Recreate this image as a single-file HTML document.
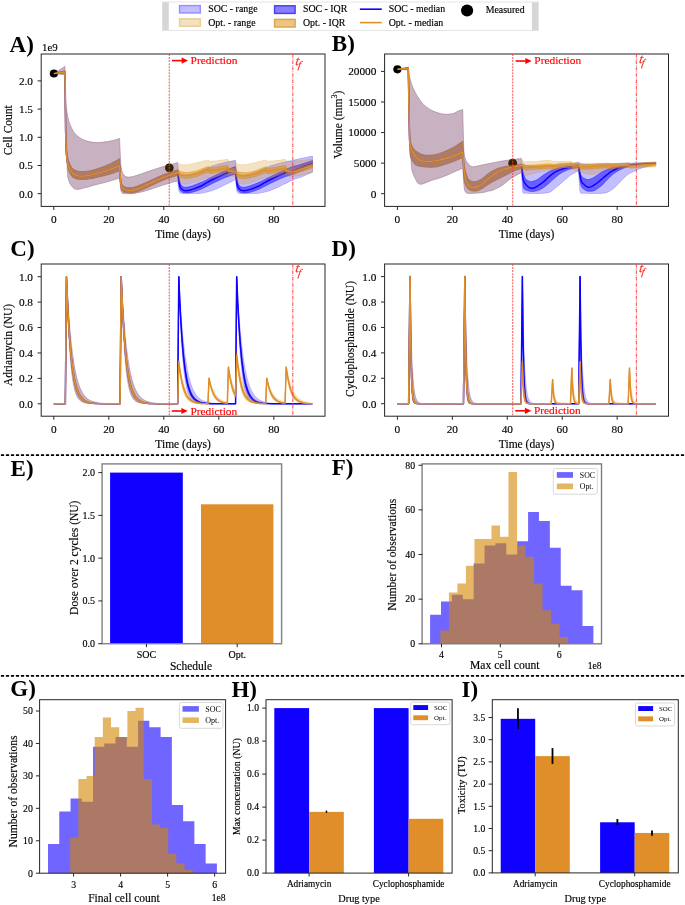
<!DOCTYPE html><html><head><meta charset="utf-8"><style>html,body{margin:0;padding:0;background:#fff;}svg{display:block;will-change:transform;}</style></head><body>
<svg width="685" height="905" viewBox="0 0 685 905" font-family='"Liberation Serif", serif'>
<rect x="0" y="0" width="685" height="905" fill="#fff"/>
<rect x="162.5" y="2" width="376" height="28.5" fill="#fff" stroke="#e6e6e6" stroke-width="1"/>
<rect x="162.5" y="2.2" width="6.3" height="28" fill="#d6d6d6"/>
<rect x="531.9" y="2.2" width="6.3" height="28" fill="#d6d6d6"/>
<rect x="179.6" y="5.6" width="20.7" height="7.3" fill="rgb(195,191,255)" stroke="rgb(150,143,255)" stroke-width="1.5"/>
<rect x="179.6" y="18.9" width="20.7" height="7.3" fill="rgb(241,226,194)" stroke="rgb(237,205,148)" stroke-width="1.5"/>
<text x="208.2" y="12.4" font-size="9.9" text-anchor="start" fill="#000" stroke="#000" stroke-width="0.15">SOC - range</text>
<text x="208.2" y="25.8" font-size="9.9" text-anchor="start" fill="#000" stroke="#000" stroke-width="0.15">Opt. - range</text>
<rect x="274.6" y="5.8" width="20.5" height="7.6" fill="rgb(135,127,255)" stroke="rgb(76,64,255)" stroke-width="1.5"/>
<rect x="274.6" y="19.4" width="20.5" height="7.6" fill="rgb(235,197,132)" stroke="rgb(225,166,71)" stroke-width="1.5"/>
<text x="302.9" y="12.4" font-size="9.9" text-anchor="start" fill="#000" stroke="#000" stroke-width="0.15">SOC - IQR</text>
<text x="302.9" y="25.8" font-size="9.9" text-anchor="start" fill="#000" stroke="#000" stroke-width="0.15">Opt. - IQR</text>
<line x1="359.9" y1="9.2" x2="381.8" y2="9.2" stroke="rgb(16,0,255)" stroke-width="1.6"/>
<line x1="359.9" y1="22.6" x2="381.8" y2="22.6" stroke="rgb(224,142,42)" stroke-width="1.6"/>
<text x="388.7" y="12.4" font-size="9.9" text-anchor="start" fill="#000" stroke="#000" stroke-width="0.15">SOC - median</text>
<text x="388.7" y="25.8" font-size="9.9" text-anchor="start" fill="#000" stroke="#000" stroke-width="0.15">Opt. - median</text>
<circle cx="467.1" cy="10.5" r="6.1" fill="#000"/>
<text x="485.7" y="13.3" font-size="9.9" text-anchor="start" fill="#000" stroke="#000" stroke-width="0.15">Measured</text>
<text x="9.6" y="51.5" font-size="23" text-anchor="start" fill="#000" font-weight="bold">A)</text>
<text x="331.8" y="50.9" font-size="23" text-anchor="start" fill="#000" font-weight="bold">B)</text>
<text x="10.3" y="255.8" font-size="23" text-anchor="start" fill="#000" font-weight="bold">C)</text>
<text x="331.6" y="255.6" font-size="23" text-anchor="start" fill="#000" font-weight="bold">D)</text>
<text x="10.6" y="476.2" font-size="23" text-anchor="start" fill="#000" font-weight="bold">E)</text>
<text x="331.8" y="475.3" font-size="23" text-anchor="start" fill="#000" font-weight="bold">F)</text>
<text x="10.3" y="695.6" font-size="23" text-anchor="start" fill="#000" font-weight="bold">G)</text>
<text x="231.4" y="696.8" font-size="23" text-anchor="start" fill="#000" font-weight="bold">H)</text>
<text x="461.5" y="696.8" font-size="23" text-anchor="start" fill="#000" font-weight="bold">I)</text>
<line x1="0" y1="455.1" x2="685" y2="455.1" stroke="#000" stroke-width="1.8" stroke-dasharray="3.2 1.8" stroke-dashoffset="-0.9"/>
<line x1="0" y1="675.8" x2="685" y2="675.8" stroke="#000" stroke-width="1.8" stroke-dasharray="3.2 1.8" stroke-dashoffset="-0.9"/>
<rect x="41.2" y="54" width="283.8" height="152.4" fill="none" stroke="#262626" stroke-width="1"/>
<line x1="37.6" y1="193.7" x2="41.2" y2="193.7" stroke="#262626" stroke-width="1"/>
<text x="33" y="197.6" font-size="11.3" text-anchor="end" fill="#000" stroke="#000" stroke-width="0.15">0.0</text>
<line x1="37.6" y1="165.5" x2="41.2" y2="165.5" stroke="#262626" stroke-width="1"/>
<text x="33" y="169.4" font-size="11.3" text-anchor="end" fill="#000" stroke="#000" stroke-width="0.15">0.5</text>
<line x1="37.6" y1="137.3" x2="41.2" y2="137.3" stroke="#262626" stroke-width="1"/>
<text x="33" y="141.2" font-size="11.3" text-anchor="end" fill="#000" stroke="#000" stroke-width="0.15">1.0</text>
<line x1="37.6" y1="109.1" x2="41.2" y2="109.1" stroke="#262626" stroke-width="1"/>
<text x="33" y="113" font-size="11.3" text-anchor="end" fill="#000" stroke="#000" stroke-width="0.15">1.5</text>
<line x1="37.6" y1="80.9" x2="41.2" y2="80.9" stroke="#262626" stroke-width="1"/>
<text x="33" y="84.8" font-size="11.3" text-anchor="end" fill="#000" stroke="#000" stroke-width="0.15">2.0</text>
<line x1="53.8" y1="206.4" x2="53.8" y2="210" stroke="#262626" stroke-width="1"/>
<text x="53.8" y="222.8" font-size="11.3" text-anchor="middle" fill="#000" stroke="#000" stroke-width="0.15">0</text>
<line x1="108.8" y1="206.4" x2="108.8" y2="210" stroke="#262626" stroke-width="1"/>
<text x="108.8" y="222.8" font-size="11.3" text-anchor="middle" fill="#000" stroke="#000" stroke-width="0.15">20</text>
<line x1="163.8" y1="206.4" x2="163.8" y2="210" stroke="#262626" stroke-width="1"/>
<text x="163.8" y="222.8" font-size="11.3" text-anchor="middle" fill="#000" stroke="#000" stroke-width="0.15">40</text>
<line x1="218.8" y1="206.4" x2="218.8" y2="210" stroke="#262626" stroke-width="1"/>
<text x="218.8" y="222.8" font-size="11.3" text-anchor="middle" fill="#000" stroke="#000" stroke-width="0.15">60</text>
<line x1="273.8" y1="206.4" x2="273.8" y2="210" stroke="#262626" stroke-width="1"/>
<text x="273.8" y="222.8" font-size="11.3" text-anchor="middle" fill="#000" stroke="#000" stroke-width="0.15">80</text>
<text x="42" y="51.2" font-size="10.9" text-anchor="start" fill="#000" stroke="#000" stroke-width="0.15">1e9</text>
<text x="183.1" y="238.2" font-size="11.5" text-anchor="middle" fill="#000" stroke="#000" stroke-width="0.15">Time (days)</text>
<text x="12.4" y="130.3" font-size="11.5" text-anchor="middle" fill="#000" stroke="#000" stroke-width="0.15" transform="rotate(-90 12.4 130.3)">Cell Count</text>
<rect x="384.6" y="54" width="283.9" height="152.4" fill="none" stroke="#262626" stroke-width="1"/>
<line x1="381" y1="193.7" x2="384.6" y2="193.7" stroke="#262626" stroke-width="1"/>
<text x="376.4" y="197.6" font-size="11.3" text-anchor="end" fill="#000" stroke="#000" stroke-width="0.15">0</text>
<line x1="381" y1="163.12" x2="384.6" y2="163.12" stroke="#262626" stroke-width="1"/>
<text x="376.4" y="167.03" font-size="11.3" text-anchor="end" fill="#000" stroke="#000" stroke-width="0.15">5000</text>
<line x1="381" y1="132.55" x2="384.6" y2="132.55" stroke="#262626" stroke-width="1"/>
<text x="376.4" y="136.45" font-size="11.3" text-anchor="end" fill="#000" stroke="#000" stroke-width="0.15">10000</text>
<line x1="381" y1="101.97" x2="384.6" y2="101.97" stroke="#262626" stroke-width="1"/>
<text x="376.4" y="105.88" font-size="11.3" text-anchor="end" fill="#000" stroke="#000" stroke-width="0.15">15000</text>
<line x1="381" y1="71.4" x2="384.6" y2="71.4" stroke="#262626" stroke-width="1"/>
<text x="376.4" y="75.3" font-size="11.3" text-anchor="end" fill="#000" stroke="#000" stroke-width="0.15">20000</text>
<line x1="397.4" y1="206.4" x2="397.4" y2="210" stroke="#262626" stroke-width="1"/>
<text x="397.4" y="222.8" font-size="11.3" text-anchor="middle" fill="#000" stroke="#000" stroke-width="0.15">0</text>
<line x1="452.34" y1="206.4" x2="452.34" y2="210" stroke="#262626" stroke-width="1"/>
<text x="452.34" y="222.8" font-size="11.3" text-anchor="middle" fill="#000" stroke="#000" stroke-width="0.15">20</text>
<line x1="507.28" y1="206.4" x2="507.28" y2="210" stroke="#262626" stroke-width="1"/>
<text x="507.28" y="222.8" font-size="11.3" text-anchor="middle" fill="#000" stroke="#000" stroke-width="0.15">40</text>
<line x1="562.22" y1="206.4" x2="562.22" y2="210" stroke="#262626" stroke-width="1"/>
<text x="562.22" y="222.8" font-size="11.3" text-anchor="middle" fill="#000" stroke="#000" stroke-width="0.15">60</text>
<line x1="617.16" y1="206.4" x2="617.16" y2="210" stroke="#262626" stroke-width="1"/>
<text x="617.16" y="222.8" font-size="11.3" text-anchor="middle" fill="#000" stroke="#000" stroke-width="0.15">80</text>
<text x="526.6" y="238.2" font-size="11.5" text-anchor="middle" fill="#000" stroke="#000" stroke-width="0.15">Time (days)</text>
<text x="341.9" y="124.7" stroke="#000" stroke-width="0.15" font-size="11.5" text-anchor="middle" transform="rotate(-90 341.9 124.7)">Volume (mm<tspan font-size="8" dy="-4.5">3</tspan><tspan dy="4.5">)</tspan></text>
<rect x="41.2" y="264" width="283.8" height="152.2" fill="none" stroke="#262626" stroke-width="1"/>
<line x1="37.6" y1="403.8" x2="41.2" y2="403.8" stroke="#262626" stroke-width="1"/>
<text x="33" y="407.7" font-size="11.3" text-anchor="end" fill="#000" stroke="#000" stroke-width="0.15">0.0</text>
<line x1="37.6" y1="378.38" x2="41.2" y2="378.38" stroke="#262626" stroke-width="1"/>
<text x="33" y="382.28" font-size="11.3" text-anchor="end" fill="#000" stroke="#000" stroke-width="0.15">0.2</text>
<line x1="37.6" y1="352.96" x2="41.2" y2="352.96" stroke="#262626" stroke-width="1"/>
<text x="33" y="356.86" font-size="11.3" text-anchor="end" fill="#000" stroke="#000" stroke-width="0.15">0.4</text>
<line x1="37.6" y1="327.54" x2="41.2" y2="327.54" stroke="#262626" stroke-width="1"/>
<text x="33" y="331.44" font-size="11.3" text-anchor="end" fill="#000" stroke="#000" stroke-width="0.15">0.6</text>
<line x1="37.6" y1="302.12" x2="41.2" y2="302.12" stroke="#262626" stroke-width="1"/>
<text x="33" y="306.02" font-size="11.3" text-anchor="end" fill="#000" stroke="#000" stroke-width="0.15">0.8</text>
<line x1="37.6" y1="276.7" x2="41.2" y2="276.7" stroke="#262626" stroke-width="1"/>
<text x="33" y="280.6" font-size="11.3" text-anchor="end" fill="#000" stroke="#000" stroke-width="0.15">1.0</text>
<line x1="53.8" y1="416.2" x2="53.8" y2="419.8" stroke="#262626" stroke-width="1"/>
<text x="53.8" y="432.6" font-size="11.3" text-anchor="middle" fill="#000" stroke="#000" stroke-width="0.15">0</text>
<line x1="108.8" y1="416.2" x2="108.8" y2="419.8" stroke="#262626" stroke-width="1"/>
<text x="108.8" y="432.6" font-size="11.3" text-anchor="middle" fill="#000" stroke="#000" stroke-width="0.15">20</text>
<line x1="163.8" y1="416.2" x2="163.8" y2="419.8" stroke="#262626" stroke-width="1"/>
<text x="163.8" y="432.6" font-size="11.3" text-anchor="middle" fill="#000" stroke="#000" stroke-width="0.15">40</text>
<line x1="218.8" y1="416.2" x2="218.8" y2="419.8" stroke="#262626" stroke-width="1"/>
<text x="218.8" y="432.6" font-size="11.3" text-anchor="middle" fill="#000" stroke="#000" stroke-width="0.15">60</text>
<line x1="273.8" y1="416.2" x2="273.8" y2="419.8" stroke="#262626" stroke-width="1"/>
<text x="273.8" y="432.6" font-size="11.3" text-anchor="middle" fill="#000" stroke="#000" stroke-width="0.15">80</text>
<text x="183.1" y="448" font-size="11.5" text-anchor="middle" fill="#000" stroke="#000" stroke-width="0.15">Time (days)</text>
<text x="11.9" y="345" font-size="11.5" text-anchor="middle" fill="#000" stroke="#000" stroke-width="0.15" transform="rotate(-90 11.9 345)">Adriamycin (NU)</text>
<rect x="384.6" y="264" width="283.9" height="152.2" fill="none" stroke="#262626" stroke-width="1"/>
<line x1="381" y1="403.7" x2="384.6" y2="403.7" stroke="#262626" stroke-width="1"/>
<text x="376.4" y="407.6" font-size="11.3" text-anchor="end" fill="#000" stroke="#000" stroke-width="0.15">0.0</text>
<line x1="381" y1="378.28" x2="384.6" y2="378.28" stroke="#262626" stroke-width="1"/>
<text x="376.4" y="382.18" font-size="11.3" text-anchor="end" fill="#000" stroke="#000" stroke-width="0.15">0.2</text>
<line x1="381" y1="352.86" x2="384.6" y2="352.86" stroke="#262626" stroke-width="1"/>
<text x="376.4" y="356.76" font-size="11.3" text-anchor="end" fill="#000" stroke="#000" stroke-width="0.15">0.4</text>
<line x1="381" y1="327.44" x2="384.6" y2="327.44" stroke="#262626" stroke-width="1"/>
<text x="376.4" y="331.34" font-size="11.3" text-anchor="end" fill="#000" stroke="#000" stroke-width="0.15">0.6</text>
<line x1="381" y1="302.02" x2="384.6" y2="302.02" stroke="#262626" stroke-width="1"/>
<text x="376.4" y="305.92" font-size="11.3" text-anchor="end" fill="#000" stroke="#000" stroke-width="0.15">0.8</text>
<line x1="381" y1="276.6" x2="384.6" y2="276.6" stroke="#262626" stroke-width="1"/>
<text x="376.4" y="280.5" font-size="11.3" text-anchor="end" fill="#000" stroke="#000" stroke-width="0.15">1.0</text>
<line x1="397.4" y1="416.2" x2="397.4" y2="419.8" stroke="#262626" stroke-width="1"/>
<text x="397.4" y="432.6" font-size="11.3" text-anchor="middle" fill="#000" stroke="#000" stroke-width="0.15">0</text>
<line x1="452.34" y1="416.2" x2="452.34" y2="419.8" stroke="#262626" stroke-width="1"/>
<text x="452.34" y="432.6" font-size="11.3" text-anchor="middle" fill="#000" stroke="#000" stroke-width="0.15">20</text>
<line x1="507.28" y1="416.2" x2="507.28" y2="419.8" stroke="#262626" stroke-width="1"/>
<text x="507.28" y="432.6" font-size="11.3" text-anchor="middle" fill="#000" stroke="#000" stroke-width="0.15">40</text>
<line x1="562.22" y1="416.2" x2="562.22" y2="419.8" stroke="#262626" stroke-width="1"/>
<text x="562.22" y="432.6" font-size="11.3" text-anchor="middle" fill="#000" stroke="#000" stroke-width="0.15">60</text>
<line x1="617.16" y1="416.2" x2="617.16" y2="419.8" stroke="#262626" stroke-width="1"/>
<text x="617.16" y="432.6" font-size="11.3" text-anchor="middle" fill="#000" stroke="#000" stroke-width="0.15">80</text>
<text x="526.6" y="448" font-size="11.5" text-anchor="middle" fill="#000" stroke="#000" stroke-width="0.15">Time (days)</text>
<text x="354.2" y="339" font-size="11.5" text-anchor="middle" fill="#000" stroke="#000" stroke-width="0.15" transform="rotate(-90 354.2 339)">Cyclophosphamide (NU)</text>
<defs><clipPath id="clA"><rect x="41.2" y="54" width="283.8" height="152.4"/></clipPath><clipPath id="clB"><rect x="384.6" y="54" width="283.9" height="152.4"/></clipPath><clipPath id="clC"><rect x="41.2" y="264" width="283.8" height="152.2"/></clipPath><clipPath id="clD"><rect x="384.6" y="264" width="283.9" height="152.2"/></clipPath></defs>
<g clip-path="url(#clA)">
<path d="M53.8 73.6 C54.73 73 57.53 71.18 59.4 70 C61.27 68.82 64.07 67.08 65 66.5 L65.4 98.6 C65.55 100.17 65.87 104.85 66.3 108 C66.73 111.15 67.4 114.83 68 117.5 C68.6 120.17 69.08 121.83 69.9 124 C70.72 126.17 71.73 128.58 72.9 130.5 C74.07 132.42 75.23 134 76.9 135.5 C78.57 137 80.75 138.45 82.9 139.5 C85.05 140.55 87.32 141.28 89.8 141.8 C92.28 142.32 95.15 142.6 97.8 142.6 C100.45 142.6 103.05 142.18 105.7 141.8 C108.35 141.42 111.38 140.85 113.7 140.3 C116.02 139.75 118.62 138.8 119.6 138.5 L120.6 162 C120.77 163.3 121.12 167.7 121.6 169.8 C122.08 171.9 122.55 173.4 123.5 174.6 C124.45 175.8 125.55 176.73 127.3 177 C129.05 177.27 131.17 176.9 134 176.2 C136.83 175.5 141.13 173.87 144.3 172.8 C147.47 171.73 149.98 170.8 153 169.8 C156.02 168.8 159.48 167.67 162.4 166.8 C165.32 165.93 167.97 165.33 170.5 164.6 C173.03 163.87 176.42 162.77 177.6 162.4 L178.6 171 C178.83 171.5 179.43 173.33 180 174 C180.57 174.67 181.12 174.8 182 175 C182.88 175.2 183.97 175.27 185.3 175.2 C186.63 175.13 188.38 174.9 190 174.6 C191.62 174.3 193.33 173.9 195 173.4 C196.67 172.9 198.42 172.23 200 171.6 C201.58 170.97 203.05 170.27 204.5 169.6 C205.95 168.93 207.22 168.27 208.7 167.6 C210.18 166.93 211.85 166.17 213.4 165.6 C214.95 165.03 216.45 164.63 218 164.2 C219.55 163.77 221.13 163.38 222.7 163 C224.27 162.62 225.28 162.35 227.4 161.9 C229.52 161.45 234.07 160.57 235.4 160.3 L236.4 171 C236.63 171.5 237.23 173.33 237.8 174 C238.37 174.67 238.92 174.8 239.8 175 C240.68 175.2 241.77 175.27 243.1 175.2 C244.43 175.13 246.18 174.9 247.8 174.6 C249.42 174.3 251.13 173.9 252.8 173.4 C254.47 172.9 256.22 172.23 257.8 171.6 C259.38 170.97 260.85 170.27 262.3 169.6 C263.75 168.93 265.02 168.27 266.5 167.6 C267.98 166.93 269.65 166.17 271.2 165.6 C272.75 165.03 274.25 164.63 275.8 164.2 C277.35 163.77 278.93 163.38 280.5 163 C282.07 162.62 283.08 162.35 285.2 161.9 C287.32 161.45 290.73 160.85 293.2 160.3 C295.67 159.75 297.87 159.08 300 158.6 C302.13 158.12 303.92 157.82 306 157.4 C308.08 156.98 311.42 156.32 312.5 156.1  L312.5 172.2 C311.42 172.67 308.08 174.12 306 175 C303.92 175.88 302.13 176.73 300 177.5 C297.87 178.27 295.07 178.87 293.2 179.6 C291.33 180.33 290.28 181.15 288.8 181.9 C287.32 182.65 286.27 183.13 284.3 184.1 C282.33 185.07 279.43 186.6 277 187.7 C274.57 188.8 272.13 189.88 269.7 190.7 C267.27 191.52 264.48 192.15 262.4 192.6 C260.32 193.05 259.63 193.23 257.2 193.4 C254.77 193.57 250.7 193.58 247.8 193.6 C244.9 193.62 241.47 193.63 239.8 193.5 C238.13 193.37 238.3 193.22 237.8 192.8 C237.3 192.38 237.07 192.13 236.8 191 C236.53 189.87 236.3 186.83 236.2 186 L235.4 179.6 C234.67 179.98 232.48 181.15 231 181.9 C229.52 182.65 228.47 183.13 226.5 184.1 C224.53 185.07 221.63 186.6 219.2 187.7 C216.77 188.8 214.33 189.88 211.9 190.7 C209.47 191.52 206.68 192.15 204.6 192.6 C202.52 193.05 201.83 193.23 199.4 193.4 C196.97 193.57 192.9 193.58 190 193.6 C187.1 193.62 183.67 193.63 182 193.5 C180.33 193.37 180.5 193.22 180 192.8 C179.5 192.38 179.27 192.13 179 191 C178.73 189.87 178.5 186.83 178.4 186 L177.6 181 C176.42 181.3 173.03 182.08 170.5 182.8 C167.97 183.52 165.32 184.35 162.4 185.3 C159.48 186.25 156.02 187.52 153 188.5 C149.98 189.48 147.47 190.38 144.3 191.2 C141.13 192.02 137.3 193 134 193.4 C130.7 193.8 126.42 193.63 124.5 193.6 C122.58 193.57 123.05 193.55 122.5 193.2 C121.95 192.85 121.53 192.37 121.2 191.5 C120.87 190.63 120.62 188.58 120.5 188 L119.6 178.1 C118.78 178.35 117.18 178.85 114.7 179.6 C112.22 180.35 108.02 181.7 104.7 182.6 C101.38 183.5 98.1 184.13 94.8 185 C91.5 185.87 87.88 187.05 84.9 187.8 C81.92 188.55 78.9 189.55 76.9 189.5 C74.9 189.45 74.07 188.48 72.9 187.5 C71.73 186.52 70.63 184.93 69.9 183.6 C69.17 182.27 68.9 181 68.5 179.5 C68.1 178 67.75 177.85 67.5 174.6 C67.25 171.35 67.22 170.77 67 160 C66.78 149.23 66.48 123.33 66.2 110 C65.92 96.67 65.45 85 65.3 80 L65 74.7 C64.07 74.62 61.27 74.38 59.4 74.2 C57.53 74.02 54.73 73.7 53.8 73.6  Z" fill="rgb(16,0,255)" fill-opacity="0.25" stroke="rgb(16,0,255)" stroke-opacity="0.25" stroke-width="0.8" stroke-linejoin="round"/>
<path d="M53.8 73.6 C54.73 73.33 57.53 72.47 59.4 72 C61.27 71.53 64.07 71 65 70.8 L65.6 125 C65.72 128.33 66.03 140.17 66.3 145 C66.57 149.83 66.83 151.42 67.2 154 C67.57 156.58 67.95 158.58 68.5 160.5 C69.05 162.42 69.77 164.12 70.5 165.5 C71.23 166.88 71.83 167.88 72.9 168.8 C73.97 169.72 75.23 170.53 76.9 171 C78.57 171.47 80.75 171.62 82.9 171.6 C85.05 171.58 86.98 171.5 89.8 170.9 C92.62 170.3 96.48 169.15 99.8 168 C103.12 166.85 106.4 165.55 109.7 164 C113 162.45 117.95 159.58 119.6 158.7 L120.3 174 C120.42 175.17 120.72 179.28 121 181 C121.28 182.72 121.42 183.33 122 184.3 C122.58 185.27 123.3 186.25 124.5 186.8 C125.7 187.35 127.62 187.52 129.2 187.6 C130.78 187.68 131.48 188.02 134 187.3 C136.52 186.58 141.13 184.63 144.3 183.3 C147.47 181.97 149.98 180.67 153 179.3 C156.02 177.93 159.48 176.28 162.4 175.1 C165.32 173.92 167.97 173.08 170.5 172.2 C173.03 171.32 176.42 170.2 177.6 169.8 L178.5 173.5 C178.63 174.5 178.97 177.83 179.3 179.5 C179.63 181.17 180.05 182.4 180.5 183.5 C180.95 184.6 181.23 185.47 182 186.1 C182.77 186.73 183.77 187.23 185.1 187.3 C186.43 187.37 188.35 186.92 190 186.5 C191.65 186.08 193.33 185.42 195 184.8 C196.67 184.18 198.4 183.48 200 182.8 C201.6 182.12 202.62 181.67 204.6 180.7 C206.58 179.73 209.47 178.22 211.9 177 C214.33 175.78 216.77 174.58 219.2 173.4 C221.63 172.22 223.8 171.05 226.5 169.9 C229.2 168.75 233.92 167.07 235.4 166.5 L236.3 173.5 C236.43 174.5 236.77 177.83 237.1 179.5 C237.43 181.17 237.85 182.4 238.3 183.5 C238.75 184.6 239.03 185.47 239.8 186.1 C240.57 186.73 241.57 187.23 242.9 187.3 C244.23 187.37 246.15 186.92 247.8 186.5 C249.45 186.08 251.13 185.42 252.8 184.8 C254.47 184.18 256.2 183.48 257.8 182.8 C259.4 182.12 260.42 181.67 262.4 180.7 C264.38 179.73 267.27 178.22 269.7 177 C272.13 175.78 274.57 174.58 277 173.4 C279.43 172.22 281.6 171.05 284.3 169.9 C287 168.75 290.92 167.27 293.2 166.5 C295.48 165.73 296.03 165.88 298 165.3 C299.97 164.72 302.58 163.8 305 163 C307.42 162.2 311.25 160.92 312.5 160.5  L312.5 166.3 C311.25 166.78 307.42 168.25 305 169.2 C302.58 170.15 299.97 171.2 298 172 C296.03 172.8 295.48 173.15 293.2 174 C290.92 174.85 287 176.07 284.3 177.1 C281.6 178.13 279.43 179.1 277 180.2 C274.57 181.3 272.13 182.48 269.7 183.7 C267.27 184.92 264.38 186.5 262.4 187.5 C260.42 188.5 259.4 189.03 257.8 189.7 C256.2 190.37 254.47 191 252.8 191.5 C251.13 192 249.45 192.47 247.8 192.7 C246.15 192.93 244.07 192.93 242.9 192.9 C241.73 192.87 241.48 192.77 240.8 192.5 C240.12 192.23 239.38 191.88 238.8 191.3 C238.22 190.72 237.7 190.3 237.3 189 C236.9 187.7 236.55 184.42 236.4 183.5 L235.4 174 C233.92 174.52 229.2 176.07 226.5 177.1 C223.8 178.13 221.63 179.1 219.2 180.2 C216.77 181.3 214.33 182.48 211.9 183.7 C209.47 184.92 206.58 186.5 204.6 187.5 C202.62 188.5 201.6 189.03 200 189.7 C198.4 190.37 196.67 191 195 191.5 C193.33 192 191.65 192.47 190 192.7 C188.35 192.93 186.27 192.93 185.1 192.9 C183.93 192.87 183.68 192.77 183 192.5 C182.32 192.23 181.58 191.88 181 191.3 C180.42 190.72 179.9 190.3 179.5 189 C179.1 187.7 178.75 184.42 178.6 183.5 L177.6 175.2 C176.42 175.6 173.03 176.72 170.5 177.6 C167.97 178.48 165.32 179.3 162.4 180.5 C159.48 181.7 156.02 183.42 153 184.8 C149.98 186.18 147.47 187.5 144.3 188.8 C141.13 190.1 137.3 192.03 134 192.6 C130.7 193.17 126.42 192.5 124.5 192.2 C122.58 191.9 123.05 191.42 122.5 190.8 C121.95 190.18 121.55 189.8 121.2 188.5 C120.85 187.2 120.53 183.92 120.4 183 L119.6 170.8 C117.95 171.37 113 173.22 109.7 174.2 C106.4 175.18 103.12 175.93 99.8 176.7 C96.48 177.47 92.62 178.35 89.8 178.8 C86.98 179.25 85.05 179.37 82.9 179.4 C80.75 179.43 78.57 179.37 76.9 179 C75.23 178.63 73.9 177.87 72.9 177.2 C71.9 176.53 71.55 176.03 70.9 175 C70.25 173.97 69.57 172.67 69 171 C68.43 169.33 67.92 167.17 67.5 165 C67.08 162.83 66.8 162.17 66.5 158 C66.2 153.83 65.83 143 65.7 140 L65 73.3 C64.07 73.33 61.27 73.45 59.4 73.5 C57.53 73.55 54.73 73.58 53.8 73.6  Z" fill="rgb(16,0,255)" fill-opacity="0.5" stroke="rgb(16,0,255)" stroke-opacity="0.5" stroke-width="0.8" stroke-linejoin="round"/>
<path d="M53.8 73.6 C54.73 73.47 57.53 73.07 59.4 72.8 C61.27 72.53 64.07 72.13 65 72 L65.6 130 C65.7 133.33 65.97 145.17 66.2 150 C66.43 154.83 66.7 156.55 67 159 C67.3 161.45 67.52 162.93 68 164.7 C68.48 166.47 69.08 168.12 69.9 169.6 C70.72 171.08 71.73 172.6 72.9 173.6 C74.07 174.6 75.23 175.18 76.9 175.6 C78.57 176.02 80.75 176.18 82.9 176.1 C85.05 176.02 86.98 175.68 89.8 175.1 C92.62 174.52 96.48 173.52 99.8 172.6 C103.12 171.68 106.4 170.75 109.7 169.6 C113 168.45 117.95 166.35 119.6 165.7 L120.3 178 C120.42 179.08 120.78 183.02 121 184.5 C121.22 185.98 121.02 186.05 121.6 186.9 C122.18 187.75 123.23 189.02 124.5 189.6 C125.77 190.18 127.62 190.33 129.2 190.4 C130.78 190.47 132.2 190.37 134 190 C135.8 189.63 138.28 188.87 140 188.2 C141.72 187.53 142.13 187.03 144.3 186 C146.47 184.97 149.98 183.37 153 182 C156.02 180.63 159.48 178.97 162.4 177.8 C165.32 176.63 167.97 175.88 170.5 175 C173.03 174.12 176.42 172.92 177.6 172.5 L178.5 178 C178.63 179 178.97 182.42 179.3 184 C179.63 185.58 180.05 186.62 180.5 187.5 C180.95 188.38 181.5 188.83 182 189.3 C182.5 189.77 182.98 190.07 183.5 190.3 C184.02 190.53 184.02 190.72 185.1 190.7 C186.18 190.68 188.35 190.57 190 190.2 C191.65 189.83 193.33 189.12 195 188.5 C196.67 187.88 198.4 187.25 200 186.5 C201.6 185.75 202.62 185.08 204.6 184 C206.58 182.92 209.47 181.27 211.9 180 C214.33 178.73 216.77 177.52 219.2 176.4 C221.63 175.28 224.53 174.07 226.5 173.3 C228.47 172.53 229.52 172.27 231 171.8 C232.48 171.33 234.67 170.72 235.4 170.5 L236.3 178 C236.43 179 236.77 182.42 237.1 184 C237.43 185.58 237.85 186.62 238.3 187.5 C238.75 188.38 239.3 188.83 239.8 189.3 C240.3 189.77 240.78 190.07 241.3 190.3 C241.82 190.53 241.82 190.72 242.9 190.7 C243.98 190.68 246.15 190.57 247.8 190.2 C249.45 189.83 251.13 189.12 252.8 188.5 C254.47 187.88 256.2 187.25 257.8 186.5 C259.4 185.75 260.42 185.08 262.4 184 C264.38 182.92 267.27 181.27 269.7 180 C272.13 178.73 274.57 177.52 277 176.4 C279.43 175.28 282.33 174.07 284.3 173.3 C286.27 172.53 287.32 172.27 288.8 171.8 C290.28 171.33 291.67 171.02 293.2 170.5 C294.73 169.98 296.03 169.45 298 168.7 C299.97 167.95 302.58 166.9 305 166 C307.42 165.1 311.25 163.75 312.5 163.3 " fill="none" stroke="rgb(16,0,255)" stroke-width="1.45" stroke-linejoin="round" stroke-linecap="butt"/>
<circle cx="53.9" cy="73.5" r="4.1" fill="#000"/>
<circle cx="169.3" cy="167.8" r="4.4" fill="#000"/>
<path d="M53.8 73.6 C54.73 73 57.53 71.18 59.4 70 C61.27 68.82 64.07 67.08 65 66.5 L65.4 98.6 C65.55 100.17 65.87 104.85 66.3 108 C66.73 111.15 67.4 114.83 68 117.5 C68.6 120.17 69.08 121.83 69.9 124 C70.72 126.17 71.73 128.58 72.9 130.5 C74.07 132.42 75.23 134 76.9 135.5 C78.57 137 80.75 138.45 82.9 139.5 C85.05 140.55 87.32 141.28 89.8 141.8 C92.28 142.32 95.15 142.6 97.8 142.6 C100.45 142.6 103.05 142.18 105.7 141.8 C108.35 141.42 111.38 140.85 113.7 140.3 C116.02 139.75 118.62 138.8 119.6 138.5 L120.6 162 C120.77 163.3 121.12 167.7 121.6 169.8 C122.08 171.9 122.55 173.4 123.5 174.6 C124.45 175.8 125.55 176.73 127.3 177 C129.05 177.27 131.17 176.9 134 176.2 C136.83 175.5 141.13 173.87 144.3 172.8 C147.47 171.73 149.98 170.8 153 169.8 C156.02 168.8 159.48 167.67 162.4 166.8 C165.32 165.93 167.97 165.33 170.5 164.6 C173.03 163.87 176.42 162.77 177.6 162.4 L178.4 163.2 C178.67 163.37 178.88 163.93 180 164.2 C181.12 164.47 183.4 164.8 185.1 164.8 C186.8 164.8 188.55 164.47 190.2 164.2 C191.85 163.93 193.3 163.6 195 163.2 C196.7 162.8 198.9 162.18 200.4 161.8 C201.9 161.42 202.67 161.22 204 160.9 C205.33 160.58 207.67 160.07 208.4 159.9 L209.2 161.3 C209.83 161.27 211.67 161.2 213 161.1 C214.33 161 215.7 160.87 217.2 160.7 C218.7 160.53 220.22 160.33 222 160.1 C223.78 159.87 226.92 159.43 227.9 159.3 L228.8 161.5 C229.33 161.47 230.87 161.38 232 161.3 C233.13 161.22 235 161.05 235.6 161 L236.2 163.2 C236.47 163.37 236.68 163.93 237.8 164.2 C238.92 164.47 241.2 164.8 242.9 164.8 C244.6 164.8 246.35 164.47 248 164.2 C249.65 163.93 251.1 163.6 252.8 163.2 C254.5 162.8 256.7 162.18 258.2 161.8 C259.7 161.42 260.47 161.22 261.8 160.9 C263.13 160.58 265.47 160.07 266.2 159.9 L267 161.3 C267.63 161.27 269.47 161.2 270.8 161.1 C272.13 161 273.5 160.87 275 160.7 C276.5 160.53 278.02 160.33 279.8 160.1 C281.58 159.87 284.72 159.43 285.7 159.3 L286.6 161.5 C287.13 161.47 288.67 161.38 289.8 161.3 C290.93 161.22 291.7 161.12 293.4 161 C295.1 160.88 297.9 160.8 300 160.6 C302.1 160.4 303.92 160.07 306 159.8 C308.08 159.53 311.42 159.13 312.5 159  L312.5 172.2 C311.42 172.5 308.08 173.45 306 174 C303.92 174.55 302.1 175.13 300 175.5 C297.9 175.87 295.1 176.08 293.4 176.2 C291.7 176.32 290.93 176.23 289.8 176.2 C288.67 176.17 287.13 176.03 286.6 176 L285.7 174.2 C284.72 174.4 281.58 175.02 279.8 175.4 C278.02 175.78 276.5 176.18 275 176.5 C273.5 176.82 272.13 177.05 270.8 177.3 C269.47 177.55 267.63 177.88 267 178 L266.2 177.2 C265.47 177.47 263.13 178.3 261.8 178.8 C260.47 179.3 259.7 179.63 258.2 180.2 C256.7 180.77 254.5 181.63 252.8 182.2 C251.1 182.77 249.65 183.25 248 183.6 C246.35 183.95 244.6 184.47 242.9 184.3 C241.2 184.13 238.92 183.32 237.8 182.6 C236.68 181.88 236.47 180.43 236.2 180 L235.6 176.2 C235 176.2 233.13 176.23 232 176.2 C230.87 176.17 229.33 176.03 228.8 176 L227.9 174.2 C226.92 174.4 223.78 175.02 222 175.4 C220.22 175.78 218.7 176.18 217.2 176.5 C215.7 176.82 214.33 177.05 213 177.3 C211.67 177.55 209.83 177.88 209.2 178 L208.4 177.2 C207.67 177.47 205.33 178.3 204 178.8 C202.67 179.3 201.9 179.63 200.4 180.2 C198.9 180.77 196.7 181.63 195 182.2 C193.3 182.77 191.85 183.25 190.2 183.6 C188.55 183.95 186.8 184.47 185.1 184.3 C183.4 184.13 181.12 183.32 180 182.6 C178.88 181.88 178.67 180.43 178.4 180 L177.6 181 C176.42 181.3 173.03 182.08 170.5 182.8 C167.97 183.52 165.32 184.35 162.4 185.3 C159.48 186.25 156.02 187.52 153 188.5 C149.98 189.48 147.47 190.38 144.3 191.2 C141.13 192.02 137.3 193 134 193.4 C130.7 193.8 126.42 193.63 124.5 193.6 C122.58 193.57 123.05 193.55 122.5 193.2 C121.95 192.85 121.53 192.37 121.2 191.5 C120.87 190.63 120.62 188.58 120.5 188 L119.6 178.1 C118.78 178.35 117.18 178.85 114.7 179.6 C112.22 180.35 108.02 181.7 104.7 182.6 C101.38 183.5 98.1 184.13 94.8 185 C91.5 185.87 87.88 187.05 84.9 187.8 C81.92 188.55 78.9 189.55 76.9 189.5 C74.9 189.45 74.07 188.48 72.9 187.5 C71.73 186.52 70.63 184.93 69.9 183.6 C69.17 182.27 68.9 181 68.5 179.5 C68.1 178 67.75 177.85 67.5 174.6 C67.25 171.35 67.22 170.77 67 160 C66.78 149.23 66.48 123.33 66.2 110 C65.92 96.67 65.45 85 65.3 80 L65 74.7 C64.07 74.62 61.27 74.38 59.4 74.2 C57.53 74.02 54.73 73.7 53.8 73.6  Z" fill="rgb(215,140,10)" fill-opacity="0.25" stroke="rgb(215,140,10)" stroke-opacity="0.25" stroke-width="0.8" stroke-linejoin="round"/>
<path d="M53.8 73.6 C54.73 73.33 57.53 72.47 59.4 72 C61.27 71.53 64.07 71 65 70.8 L65.6 125 C65.72 128.33 66.03 140.17 66.3 145 C66.57 149.83 66.83 151.42 67.2 154 C67.57 156.58 67.95 158.58 68.5 160.5 C69.05 162.42 69.77 164.12 70.5 165.5 C71.23 166.88 71.83 167.88 72.9 168.8 C73.97 169.72 75.23 170.53 76.9 171 C78.57 171.47 80.75 171.62 82.9 171.6 C85.05 171.58 86.98 171.5 89.8 170.9 C92.62 170.3 96.48 169.15 99.8 168 C103.12 166.85 106.4 165.55 109.7 164 C113 162.45 117.95 159.58 119.6 158.7 L120.3 174 C120.42 175.17 120.72 179.28 121 181 C121.28 182.72 121.42 183.33 122 184.3 C122.58 185.27 123.3 186.25 124.5 186.8 C125.7 187.35 127.62 187.52 129.2 187.6 C130.78 187.68 131.48 188.02 134 187.3 C136.52 186.58 141.13 184.63 144.3 183.3 C147.47 181.97 149.98 180.67 153 179.3 C156.02 177.93 159.48 176.28 162.4 175.1 C165.32 173.92 167.97 173.08 170.5 172.2 C173.03 171.32 176.42 170.2 177.6 169.8 L178.4 170 C178.67 170.25 178.88 171.1 180 171.5 C181.12 171.9 183.4 172.28 185.1 172.4 C186.8 172.52 188.55 172.4 190.2 172.2 C191.85 172 193.3 171.67 195 171.2 C196.7 170.73 198.9 169.93 200.4 169.4 C201.9 168.87 202.67 168.5 204 168 C205.33 167.5 207.67 166.67 208.4 166.4 L209.2 168 C209.83 167.93 211.67 167.77 213 167.6 C214.33 167.43 215.7 167.27 217.2 167 C218.7 166.73 220.22 166.33 222 166 C223.78 165.67 226.92 165.17 227.9 165 L228.8 168.6 C229.33 168.63 230.87 168.77 232 168.8 C233.13 168.83 235 168.8 235.6 168.8 L236.2 170.3 C236.47 170.55 236.68 171.4 237.8 171.8 C238.92 172.2 241.2 172.58 242.9 172.7 C244.6 172.82 246.35 172.7 248 172.5 C249.65 172.3 251.1 171.97 252.8 171.5 C254.5 171.03 256.7 170.23 258.2 169.7 C259.7 169.17 260.47 168.8 261.8 168.3 C263.13 167.8 265.47 166.97 266.2 166.7 L267 168.3 C267.63 168.23 269.47 168.07 270.8 167.9 C272.13 167.73 273.5 167.57 275 167.3 C276.5 167.03 278.02 166.63 279.8 166.3 C281.58 165.97 284.72 165.47 285.7 165.3 L286.6 168.9 C287.13 168.93 288.67 169.07 289.8 169.1 C290.93 169.13 291.7 169.38 293.4 169.1 C295.1 168.82 297.9 167.98 300 167.4 C302.1 166.82 303.92 166.23 306 165.6 C308.08 164.97 311.42 163.93 312.5 163.6  L312.5 168 C311.42 168.33 308.08 169.33 306 170 C303.92 170.67 302.1 171.33 300 172 C297.9 172.67 295.1 173.68 293.4 174 C291.7 174.32 290.93 173.95 289.8 173.9 C288.67 173.85 287.13 173.73 286.6 173.7 L285.7 170.7 C284.72 170.88 281.58 171.47 279.8 171.8 C278.02 172.13 276.5 172.42 275 172.7 C273.5 172.98 272.13 173.3 270.8 173.5 C269.47 173.7 267.63 173.83 267 173.9 L266.2 172.5 C265.47 172.77 263.13 173.6 261.8 174.1 C260.47 174.6 259.7 174.97 258.2 175.5 C256.7 176.03 254.5 176.83 252.8 177.3 C251.1 177.77 249.65 178.07 248 178.3 C246.35 178.53 244.6 178.78 242.9 178.7 C241.2 178.62 238.92 178.28 237.8 177.8 C236.68 177.32 236.47 176.13 236.2 175.8 L235.6 173.7 C235 173.68 233.13 173.65 232 173.6 C230.87 173.55 229.33 173.43 228.8 173.4 L227.9 170.4 C226.92 170.58 223.78 171.17 222 171.5 C220.22 171.83 218.7 172.12 217.2 172.4 C215.7 172.68 214.33 173 213 173.2 C211.67 173.4 209.83 173.53 209.2 173.6 L208.4 172.2 C207.67 172.47 205.33 173.3 204 173.8 C202.67 174.3 201.9 174.67 200.4 175.2 C198.9 175.73 196.7 176.53 195 177 C193.3 177.47 191.85 177.77 190.2 178 C188.55 178.23 186.8 178.48 185.1 178.4 C183.4 178.32 181.12 177.98 180 177.5 C178.88 177.02 178.67 175.83 178.4 175.5 L177.6 175.2 C176.42 175.6 173.03 176.72 170.5 177.6 C167.97 178.48 165.32 179.3 162.4 180.5 C159.48 181.7 156.02 183.42 153 184.8 C149.98 186.18 147.47 187.5 144.3 188.8 C141.13 190.1 137.3 192.03 134 192.6 C130.7 193.17 126.42 192.5 124.5 192.2 C122.58 191.9 123.05 191.42 122.5 190.8 C121.95 190.18 121.55 189.8 121.2 188.5 C120.85 187.2 120.53 183.92 120.4 183 L119.6 170.8 C117.95 171.37 113 173.22 109.7 174.2 C106.4 175.18 103.12 175.93 99.8 176.7 C96.48 177.47 92.62 178.35 89.8 178.8 C86.98 179.25 85.05 179.37 82.9 179.4 C80.75 179.43 78.57 179.37 76.9 179 C75.23 178.63 73.9 177.87 72.9 177.2 C71.9 176.53 71.55 176.03 70.9 175 C70.25 173.97 69.57 172.67 69 171 C68.43 169.33 67.92 167.17 67.5 165 C67.08 162.83 66.8 162.17 66.5 158 C66.2 153.83 65.83 143 65.7 140 L65 73.3 C64.07 73.33 61.27 73.45 59.4 73.5 C57.53 73.55 54.73 73.58 53.8 73.6  Z" fill="rgb(215,140,10)" fill-opacity="0.5" stroke="rgb(215,140,10)" stroke-opacity="0.5" stroke-width="0.8" stroke-linejoin="round"/>
<path d="M53.8 73.6 C54.73 73.47 57.53 73.07 59.4 72.8 C61.27 72.53 64.07 72.13 65 72 L65.6 130 C65.7 133.33 65.97 145.17 66.2 150 C66.43 154.83 66.7 156.55 67 159 C67.3 161.45 67.52 162.93 68 164.7 C68.48 166.47 69.08 168.12 69.9 169.6 C70.72 171.08 71.73 172.6 72.9 173.6 C74.07 174.6 75.23 175.18 76.9 175.6 C78.57 176.02 80.75 176.18 82.9 176.1 C85.05 176.02 86.98 175.68 89.8 175.1 C92.62 174.52 96.48 173.52 99.8 172.6 C103.12 171.68 106.4 170.75 109.7 169.6 C113 168.45 117.95 166.35 119.6 165.7 L120.3 178 C120.42 179.08 120.78 183.02 121 184.5 C121.22 185.98 121.02 186.05 121.6 186.9 C122.18 187.75 123.23 189.02 124.5 189.6 C125.77 190.18 127.62 190.33 129.2 190.4 C130.78 190.47 132.2 190.37 134 190 C135.8 189.63 138.28 188.87 140 188.2 C141.72 187.53 142.13 187.03 144.3 186 C146.47 184.97 149.98 183.37 153 182 C156.02 180.63 159.48 178.97 162.4 177.8 C165.32 176.63 167.97 175.88 170.5 175 C173.03 174.12 176.42 172.92 177.6 172.5 L178.4 172.75 C178.67 173.04 178.88 174.06 180 174.5 C181.12 174.94 183.4 175.3 185.1 175.4 C186.8 175.5 188.55 175.32 190.2 175.1 C191.85 174.88 193.3 174.57 195 174.1 C196.7 173.63 198.9 172.83 200.4 172.3 C201.9 171.77 202.67 171.4 204 170.9 C205.33 170.4 207.67 169.57 208.4 169.3 L209.2 170.8 C209.83 170.73 211.67 170.58 213 170.4 C214.33 170.22 215.7 169.97 217.2 169.7 C218.7 169.42 220.22 169.08 222 168.75 C223.78 168.42 226.92 167.88 227.9 167.7 L228.8 171 C229.33 171.03 230.87 171.16 232 171.2 C233.13 171.24 235 171.24 235.6 171.25 L236.2 173.05 C236.47 173.34 236.68 174.36 237.8 174.8 C238.92 175.24 241.2 175.6 242.9 175.7 C244.6 175.8 246.35 175.62 248 175.4 C249.65 175.18 251.1 174.87 252.8 174.4 C254.5 173.93 256.7 173.13 258.2 172.6 C259.7 172.07 260.47 171.7 261.8 171.2 C263.13 170.7 265.47 169.87 266.2 169.6 L267 171.1 C267.63 171.03 269.47 170.88 270.8 170.7 C272.13 170.52 273.5 170.28 275 170 C276.5 169.72 278.02 169.38 279.8 169.05 C281.58 168.72 284.72 168.18 285.7 168 L286.6 171.3 C287.13 171.33 288.67 171.46 289.8 171.5 C290.93 171.54 291.7 171.85 293.4 171.55 C295.1 171.25 297.9 170.32 300 169.7 C302.1 169.07 303.92 168.45 306 167.8 C308.08 167.15 311.42 166.13 312.5 165.8 " fill="none" stroke="rgb(224,142,42)" stroke-width="1.45" stroke-linejoin="round" stroke-linecap="butt"/>
</g>
<g clip-path="url(#clB)">
<path d="M397.4 69.3 C398.32 69.12 401.08 68.58 402.9 68.2 C404.72 67.82 407.4 67.2 408.3 67 L409.3 75.5 C409.58 76.58 410.35 79.93 411 82 C411.65 84.07 412.05 85.38 413.2 87.9 C414.35 90.42 416.1 94.27 417.9 97.1 C419.7 99.93 421.43 102.57 424 104.9 C426.57 107.23 429.93 109.55 433.3 111.1 C436.67 112.65 440.85 113.82 444.2 114.2 C447.55 114.58 451.08 113.92 453.4 113.4 C455.72 112.88 456.55 111.75 458.1 111.1 C459.65 110.45 461.93 109.77 462.7 109.5 L463.8 150 C464.03 151.43 464.45 156.32 465.2 158.6 C465.95 160.88 467.1 162.33 468.3 163.7 C469.5 165.07 470.37 166.53 472.4 166.8 C474.43 167.07 477.43 165.9 480.5 165.3 C483.57 164.7 487.38 163.88 490.8 163.2 C494.22 162.52 497.6 161.8 501 161.2 C504.4 160.6 507.8 160.03 511.2 159.6 C514.6 159.17 519.7 158.77 521.4 158.6 L522.3 163 C522.58 163.25 523.22 164.08 524 164.5 C524.78 164.92 525.95 165.25 527 165.5 C528.05 165.75 528.63 165.92 530.3 166 C531.97 166.08 534.43 166.07 537 166 C539.57 165.93 543.03 165.73 545.7 165.6 C548.37 165.47 550.45 165.33 553 165.2 C555.55 165.07 558.83 164.97 561 164.8 C563.17 164.63 564.3 164.42 566 164.2 C567.7 163.98 569.48 163.73 571.2 163.5 C572.92 163.27 575.1 163 576.3 162.8 C577.5 162.6 578.05 162.38 578.4 162.3 L579.5 163 C579.92 163.17 580.92 163.75 582 164 C583.08 164.25 584.33 164.42 586 164.5 C587.67 164.58 589.67 164.55 592 164.5 C594.33 164.45 597 164.32 600 164.2 C603 164.08 606.67 163.93 610 163.8 C613.33 163.67 616.67 163.53 620 163.4 C623.33 163.27 626.67 163.12 630 163 C633.33 162.88 635.7 162.83 640 162.7 C644.3 162.57 653.17 162.28 655.8 162.2  L655.8 164.5 C654 164.92 648.13 166.1 645 167 C641.87 167.9 639.28 168.98 637 169.9 C634.72 170.82 633.13 171.48 631.3 172.5 C629.47 173.52 627.75 174.53 626 176 C624.25 177.47 622.83 179.25 620.8 181.3 C618.77 183.35 616 186.48 613.8 188.3 C611.6 190.12 609.4 191.38 607.6 192.2 C605.8 193.02 605.18 192.98 603 193.2 C600.82 193.42 597.5 193.48 594.5 193.5 C591.5 193.52 587.33 193.43 585 193.3 C582.67 193.17 581.4 193.92 580.5 192.7 C579.6 191.48 579.75 187.12 579.6 186 L578.4 170.7 C577.2 171.37 573.27 173.32 571.2 174.7 C569.13 176.08 567.87 177.42 566 179 C564.13 180.58 561.83 182.65 560 184.2 C558.17 185.75 556.8 186.93 555 188.3 C553.2 189.67 552.12 191.53 549.2 192.4 C546.28 193.27 541.4 193.37 537.5 193.5 C533.6 193.63 528.23 193.38 525.8 193.2 C523.37 193.02 523.5 193.77 522.9 192.4 C522.3 191.03 522.32 186.23 522.2 185 L521.4 172.4 C520.5 172.92 517.67 174.57 516 175.5 C514.33 176.43 513.73 176.33 511.4 178 C509.07 179.67 505.12 183.47 502 185.5 C498.88 187.53 495.03 189.25 492.7 190.2 C490.37 191.15 489.62 190.8 488 191.2 C486.38 191.6 485.1 192.27 483 192.6 C480.9 192.93 478.02 193.1 475.4 193.2 C472.78 193.3 469.08 193.68 467.3 193.2 C465.52 192.72 465.28 192 464.7 190.3 C464.12 188.6 463.95 184.22 463.8 183 L462.7 168.3 C460.9 169.08 455.5 171.45 451.9 173 C448.3 174.55 444.72 176.28 441.1 177.6 C437.48 178.92 433.3 179.83 430.2 180.9 C427.1 181.97 424.55 183.6 422.5 184 C420.45 184.4 419.18 184.37 417.9 183.3 C416.62 182.23 415.62 179.23 414.8 177.6 C413.98 175.97 413.52 175.05 413 173.5 C412.48 171.95 412.12 172.22 411.7 168.3 C411.28 164.38 410.87 158.05 410.5 150 C410.13 141.95 409.67 125 409.5 120 L408.3 70 C407.4 69.93 404.72 69.72 402.9 69.6 C401.08 69.48 398.32 69.35 397.4 69.3  Z" fill="rgb(16,0,255)" fill-opacity="0.25" stroke="rgb(16,0,255)" stroke-opacity="0.25" stroke-width="0.8" stroke-linejoin="round"/>
<path d="M397.4 69.3 C398.32 69.15 401.08 68.68 402.9 68.4 C404.72 68.12 407.4 67.73 408.3 67.6 L409.6 135 C409.77 136.17 410.03 139.83 410.6 142 C411.17 144.17 412.05 146.45 413 148 C413.95 149.55 414.47 150.13 416.3 151.3 C418.13 152.47 420.65 154.48 424 155 C427.35 155.52 431.75 155.53 436.4 154.4 C441.05 153.27 447.52 150.4 451.9 148.2 C456.28 146 460.9 142.37 462.7 141.2 L463.8 160 C463.95 161.33 464.25 165.5 464.7 168 C465.15 170.5 465.9 173.17 466.5 175 C467.1 176.83 467.55 177.97 468.3 179 C469.05 180.03 470.05 180.73 471 181.2 C471.95 181.67 472.83 181.83 474 181.8 C475.17 181.77 476.5 181.63 478 181 C479.5 180.37 481.33 179.2 483 178 C484.67 176.8 486 175.2 488 173.8 C490 172.4 492.67 170.68 495 169.6 C497.33 168.52 499.67 167.93 502 167.3 C504.33 166.67 506.67 166.18 509 165.8 C511.33 165.42 513.93 165.3 516 165 C518.07 164.7 520.5 164.17 521.4 164 L522.3 168 C522.42 168.67 522.72 170.75 523 172 C523.28 173.25 523.53 174.33 524 175.5 C524.47 176.67 525 178.08 525.8 179 C526.6 179.92 527.82 180.57 528.8 181 C529.78 181.43 530.25 181.85 531.7 181.6 C533.15 181.35 535.55 180.58 537.5 179.5 C539.45 178.42 541.45 176.45 543.4 175.1 C545.35 173.75 547.27 172.42 549.2 171.4 C551.13 170.38 553.2 169.63 555 169 C556.8 168.37 558.17 168 560 167.6 C561.83 167.2 564.13 166.9 566 166.6 C567.87 166.3 569.13 166.15 571.2 165.8 C573.27 165.45 577.2 164.72 578.4 164.5 L579.6 169 C579.9 170.17 580.37 174.32 581.4 176 C582.43 177.68 584.63 178.52 585.8 179.1 C586.97 179.68 587.53 179.57 588.4 179.5 C589.27 179.43 589.98 179.13 591 178.7 C592.02 178.27 592.45 178.15 594.5 176.9 C596.55 175.65 600.38 172.73 603.3 171.2 C606.22 169.67 609.08 168.57 612 167.7 C614.92 166.83 617.8 166.48 620.8 166 C623.8 165.52 627.3 165.17 630 164.8 C632.7 164.43 632.7 164.1 637 163.8 C641.3 163.5 652.67 163.13 655.8 163  L655.8 164 C654 164.03 648.13 164.1 645 164.2 C641.87 164.3 639.87 164.17 637 164.6 C634.13 165.03 630.5 166 627.8 166.8 C625.1 167.6 622.77 168.53 620.8 169.4 C618.83 170.27 617.47 171.05 616 172 C614.53 172.95 613.4 173.88 612 175.1 C610.6 176.32 609.05 177.83 607.6 179.3 C606.15 180.77 604.73 182.52 603.3 183.9 C601.87 185.28 600.47 186.5 599 187.6 C597.53 188.7 595.98 189.88 594.5 190.5 C593.02 191.12 591.55 191.3 590.1 191.3 C588.65 191.3 587.25 191.3 585.8 190.5 C584.35 189.7 582.43 188.58 581.4 186.5 C580.37 184.42 579.9 179.42 579.6 178 L578.4 167.3 C577.2 167.55 573.27 168.25 571.2 168.8 C569.13 169.35 567.87 169.78 566 170.6 C564.13 171.42 561.83 172.5 560 173.7 C558.17 174.9 556.8 176.25 555 177.8 C553.2 179.35 551.13 181.35 549.2 183 C547.27 184.65 545.35 186.43 543.4 187.7 C541.45 188.97 539.45 189.97 537.5 190.6 C535.55 191.23 533.65 191.6 531.7 191.5 C529.75 191.4 527.17 190.63 525.8 190 C524.43 189.37 523.98 189.03 523.5 187.7 C523.02 186.37 523.1 183.95 522.9 182 C522.7 180.05 522.4 177 522.3 176 L521.4 168.6 C520.5 168.85 518.07 169.3 516 170.1 C513.93 170.9 511.33 172.23 509 173.4 C506.67 174.57 504.33 175.92 502 177.1 C499.67 178.28 497.33 179.25 495 180.5 C492.67 181.75 490 183.35 488 184.6 C486 185.85 484.67 187 483 188 C481.33 189 479.5 190.08 478 190.6 C476.5 191.12 475.17 191.1 474 191.1 C472.83 191.1 471.95 190.95 471 190.6 C470.05 190.25 469.05 189.68 468.3 189 C467.55 188.32 467.1 187.67 466.5 186.5 C465.9 185.33 465.15 183.75 464.7 182 C464.25 180.25 463.95 177 463.8 176 L462.7 157.5 C460.9 158.27 456.28 160.55 451.9 162.1 C447.52 163.65 441.05 166.02 436.4 166.8 C431.75 167.58 427.35 167.07 424 166.8 C420.65 166.53 418.05 165.92 416.3 165.2 C414.55 164.48 414.38 163.7 413.5 162.5 C412.62 161.3 411.62 160.08 411 158 C410.38 155.92 410.1 156.33 409.8 150 C409.5 143.67 409.3 125 409.2 120 L408.3 69.3 C407.4 69.3 404.72 69.3 402.9 69.3 C401.08 69.3 398.32 69.3 397.4 69.3  Z" fill="rgb(16,0,255)" fill-opacity="0.5" stroke="rgb(16,0,255)" stroke-opacity="0.5" stroke-width="0.8" stroke-linejoin="round"/>
<path d="M397.4 69.3 C398.32 69.23 401.08 69.03 402.9 68.9 C404.72 68.77 407.4 68.57 408.3 68.5 L409 110 C409.1 115 409.37 134 409.6 140 C409.83 146 409.8 143.87 410.4 146 C411 148.13 411.95 150.63 413.2 152.8 C414.45 154.97 416.1 157.57 417.9 159 C419.7 160.43 420.92 161.13 424 161.4 C427.08 161.67 431.75 161.38 436.4 160.6 C441.05 159.82 447.52 158.12 451.9 156.7 C456.28 155.28 460.9 152.87 462.7 152.1 L463.8 168 C463.95 169.17 464.33 172.83 464.7 175 C465.07 177.17 465.4 179.33 466 181 C466.6 182.67 467.47 184 468.3 185 C469.13 186 470.05 186.6 471 187 C471.95 187.4 472.83 187.48 474 187.4 C475.17 187.32 476.5 187.15 478 186.5 C479.5 185.85 481.33 184.75 483 183.5 C484.67 182.25 486 180.62 488 179 C490 177.38 492.67 175.28 495 173.8 C497.33 172.32 499.67 171.1 502 170.1 C504.33 169.1 506.67 168.42 509 167.8 C511.33 167.18 513.93 166.83 516 166.4 C518.07 165.97 520.5 165.4 521.4 165.2 L522.3 172 C522.4 173.07 522.62 176.82 522.9 178.4 C523.18 179.98 523.52 180.48 524 181.5 C524.48 182.52 525 183.52 525.8 184.5 C526.6 185.48 527.82 186.77 528.8 187.4 C529.78 188.03 530.73 188.25 531.7 188.3 C532.67 188.35 533.63 188.05 534.6 187.7 C535.57 187.35 536.03 187.17 537.5 186.2 C538.97 185.23 541.45 183.5 543.4 181.9 C545.35 180.3 547.27 178.22 549.2 176.6 C551.13 174.98 553.2 173.32 555 172.2 C556.8 171.08 558.17 170.6 560 169.9 C561.83 169.2 564.13 168.52 566 168 C567.87 167.48 569.13 167.22 571.2 166.8 C573.27 166.38 577.2 165.72 578.4 165.5 L579.6 173 C579.9 174.38 580.75 179.47 581.4 181.3 C582.05 183.13 582.77 183.2 583.5 184 C584.23 184.8 584.98 185.57 585.8 186.1 C586.62 186.63 587.53 187.08 588.4 187.2 C589.27 187.32 589.98 187.2 591 186.8 C592.02 186.4 593.17 185.68 594.5 184.8 C595.83 183.92 597.53 182.67 599 181.5 C600.47 180.33 601.87 179 603.3 177.8 C604.73 176.6 606.15 175.4 607.6 174.3 C609.05 173.2 610.6 172.08 612 171.2 C613.4 170.32 614.53 169.65 616 169 C617.47 168.35 618.83 167.88 620.8 167.3 C622.77 166.72 625.1 166.02 627.8 165.5 C630.5 164.98 634.13 164.48 637 164.2 C639.87 163.92 641.87 163.92 645 163.8 C648.13 163.68 654 163.55 655.8 163.5 " fill="none" stroke="rgb(16,0,255)" stroke-width="1.45" stroke-linejoin="round" stroke-linecap="butt"/>
<circle cx="397.4" cy="69.3" r="4.1" fill="#000"/>
<circle cx="512.7" cy="163.2" r="4.4" fill="#000"/>
<path d="M397.4 69.3 C398.32 69.12 401.08 68.58 402.9 68.2 C404.72 67.82 407.4 67.2 408.3 67 L409.3 75.5 C409.58 76.58 410.35 79.93 411 82 C411.65 84.07 412.05 85.38 413.2 87.9 C414.35 90.42 416.1 94.27 417.9 97.1 C419.7 99.93 421.43 102.57 424 104.9 C426.57 107.23 429.93 109.55 433.3 111.1 C436.67 112.65 440.85 113.82 444.2 114.2 C447.55 114.58 451.08 113.92 453.4 113.4 C455.72 112.88 456.55 111.75 458.1 111.1 C459.65 110.45 461.93 109.77 462.7 109.5 L463.8 150 C464.03 151.43 464.45 156.32 465.2 158.6 C465.95 160.88 467.1 162.33 468.3 163.7 C469.5 165.07 470.37 166.53 472.4 166.8 C474.43 167.07 477.43 165.9 480.5 165.3 C483.57 164.7 487.38 163.88 490.8 163.2 C494.22 162.52 497.6 161.8 501 161.2 C504.4 160.6 507.8 160.03 511.2 159.6 C514.6 159.17 519.7 158.77 521.4 158.6 L522.3 160.5 C522.58 160.65 523.42 161.2 524 161.4 C524.58 161.6 524.63 161.67 525.8 161.7 C526.97 161.73 529.05 161.65 531 161.6 C532.95 161.55 535.43 161.57 537.5 161.4 C539.57 161.23 541.37 160.78 543.4 160.6 C545.43 160.42 548.65 160.35 549.7 160.3 L553.2 161.5 C553.67 161.48 554.87 161.42 556 161.4 C557.13 161.38 558.33 161.42 560 161.4 C561.67 161.38 564.13 161.37 566 161.3 C567.87 161.23 570.33 161.05 571.2 161 L572.4 162.4 C573 162.4 575 162.42 576 162.4 C577 162.38 578 162.32 578.4 162.3 L579.6 163 C580 163.07 580.27 163.35 582 163.4 C583.73 163.45 587 163.35 590 163.3 C593 163.25 597.03 163.17 600 163.1 C602.97 163.03 606.5 162.93 607.8 162.9 L610.8 163.6 C612 163.57 615.8 163.47 618 163.4 C620.2 163.33 622.17 163.27 624 163.2 C625.83 163.13 628.17 163.03 629 163 L630.2 163.6 C630.83 163.58 632.37 163.55 634 163.5 C635.63 163.45 637.67 163.37 640 163.3 C642.33 163.23 645.37 163.17 648 163.1 C650.63 163.03 654.5 162.93 655.8 162.9  L655.8 164.8 C654.5 164.88 650.63 165.1 648 165.3 C645.37 165.5 642.33 165.8 640 166 C637.67 166.2 635.63 166.37 634 166.5 C632.37 166.63 630.83 166.75 630.2 166.8 L629 166.6 C627.5 166.67 622.17 166.85 620 167 C617.83 167.15 617.53 167.22 616 167.5 C614.47 167.78 611.67 168.5 610.8 168.7 L607.8 169.2 C607.05 169.38 605.52 169.47 603.3 170.3 C601.08 171.13 596.7 173.5 594.5 174.2 C592.3 174.9 591.68 174.6 590.1 174.5 C588.52 174.4 586.45 173.93 585 173.6 C583.55 173.27 582.3 172.8 581.4 172.5 C580.5 172.2 579.9 171.92 579.6 171.8 L578.4 171 C578 170.92 577 170.75 576 170.5 C575 170.25 573 169.67 572.4 169.5 L571.2 167.6 C570.33 167.6 567.87 167.57 566 167.6 C564.13 167.63 561.67 167.58 560 167.8 C558.33 168.02 557.13 168.57 556 168.9 C554.87 169.23 553.67 169.65 553.2 169.8 L549.7 169.6 C548.65 169.83 545.43 170.52 543.4 171 C541.37 171.48 539.45 172 537.5 172.5 C535.55 173 533.65 173.52 531.7 174 C529.75 174.48 527.08 175.32 525.8 175.4 C524.52 175.48 524.58 175.15 524 174.5 C523.42 173.85 522.58 172 522.3 171.5 L521.4 172.4 C520.5 172.92 517.67 174.57 516 175.5 C514.33 176.43 513.73 176.33 511.4 178 C509.07 179.67 505.12 183.47 502 185.5 C498.88 187.53 495.03 189.25 492.7 190.2 C490.37 191.15 489.62 190.8 488 191.2 C486.38 191.6 485.1 192.27 483 192.6 C480.9 192.93 478.02 193.1 475.4 193.2 C472.78 193.3 469.08 193.68 467.3 193.2 C465.52 192.72 465.28 192 464.7 190.3 C464.12 188.6 463.95 184.22 463.8 183 L462.7 168.3 C460.9 169.08 455.5 171.45 451.9 173 C448.3 174.55 444.72 176.28 441.1 177.6 C437.48 178.92 433.3 179.83 430.2 180.9 C427.1 181.97 424.55 183.6 422.5 184 C420.45 184.4 419.18 184.37 417.9 183.3 C416.62 182.23 415.62 179.23 414.8 177.6 C413.98 175.97 413.52 175.05 413 173.5 C412.48 171.95 412.12 172.22 411.7 168.3 C411.28 164.38 410.87 158.05 410.5 150 C410.13 141.95 409.67 125 409.5 120 L408.3 70 C407.4 69.93 404.72 69.72 402.9 69.6 C401.08 69.48 398.32 69.35 397.4 69.3  Z" fill="rgb(215,140,10)" fill-opacity="0.25" stroke="rgb(215,140,10)" stroke-opacity="0.25" stroke-width="0.8" stroke-linejoin="round"/>
<path d="M397.4 69.3 C398.32 69.15 401.08 68.68 402.9 68.4 C404.72 68.12 407.4 67.73 408.3 67.6 L409.6 135 C409.77 136.17 410.03 139.83 410.6 142 C411.17 144.17 412.05 146.45 413 148 C413.95 149.55 414.47 150.13 416.3 151.3 C418.13 152.47 420.65 154.48 424 155 C427.35 155.52 431.75 155.53 436.4 154.4 C441.05 153.27 447.52 150.4 451.9 148.2 C456.28 146 460.9 142.37 462.7 141.2 L463.8 160 C463.95 161.33 464.25 165.5 464.7 168 C465.15 170.5 465.9 173.17 466.5 175 C467.1 176.83 467.55 177.97 468.3 179 C469.05 180.03 470.05 180.73 471 181.2 C471.95 181.67 472.83 181.83 474 181.8 C475.17 181.77 476.5 181.63 478 181 C479.5 180.37 481.33 179.2 483 178 C484.67 176.8 486 175.2 488 173.8 C490 172.4 492.67 170.68 495 169.6 C497.33 168.52 499.67 167.93 502 167.3 C504.33 166.67 506.67 166.18 509 165.8 C511.33 165.42 513.93 165.3 516 165 C518.07 164.7 520.5 164.17 521.4 164 L522.3 164 C522.58 164.17 523.42 164.77 524 165 C524.58 165.23 524.63 165.38 525.8 165.4 C526.97 165.42 529.05 165.22 531 165.1 C532.95 164.98 535.43 164.85 537.5 164.7 C539.57 164.55 541.37 164.35 543.4 164.2 C545.43 164.05 548.65 163.87 549.7 163.8 L553.2 164.6 C553.67 164.52 554.87 164.32 556 164.1 C557.13 163.88 558.33 163.47 560 163.3 C561.67 163.13 564.13 163.18 566 163.1 C567.87 163.02 570.33 162.85 571.2 162.8 L572.4 163.8 C573 163.8 575 163.8 576 163.8 C577 163.8 578 163.8 578.4 163.8 L579.6 164.4 C580 164.45 580.97 164.65 582 164.7 C583.03 164.75 583.8 164.78 585.8 164.7 C587.8 164.62 591.63 164.35 594 164.2 C596.37 164.05 597.7 163.93 600 163.8 C602.3 163.67 606.5 163.47 607.8 163.4 L610.8 164 C612 163.93 615.8 163.72 618 163.6 C620.2 163.48 622.17 163.4 624 163.3 C625.83 163.2 628.17 163.05 629 163 L630.2 163.8 C630.83 163.77 632.37 163.73 634 163.6 C635.63 163.47 637.67 163.18 640 163 C642.33 162.82 645.37 162.65 648 162.5 C650.63 162.35 654.5 162.17 655.8 162.1  L655.8 166.6 C654.5 166.67 650.63 166.85 648 167 C645.37 167.15 642.33 167.32 640 167.5 C637.67 167.68 635.63 167.97 634 168.1 C632.37 168.23 630.83 168.27 630.2 168.3 L629 167.5 C628.17 167.55 625.83 167.7 624 167.8 C622.17 167.9 620.2 167.98 618 168.1 C615.8 168.22 612 168.43 610.8 168.5 L607.8 167.9 C606.5 167.97 602.3 168.17 600 168.3 C597.7 168.43 596.37 168.55 594 168.7 C591.63 168.85 587.8 169.12 585.8 169.2 C583.8 169.28 583.03 169.25 582 169.2 C580.97 169.15 580 168.95 579.6 168.9 L578.4 168.3 C578 168.3 577 168.3 576 168.3 C575 168.3 573 168.3 572.4 168.3 L571.2 167.3 C570.33 167.35 567.87 167.52 566 167.6 C564.13 167.68 561.67 167.63 560 167.8 C558.33 167.97 557.13 168.38 556 168.6 C554.87 168.82 553.67 169.02 553.2 169.1 L549.7 168.3 C548.65 168.37 545.43 168.55 543.4 168.7 C541.37 168.85 539.57 169.05 537.5 169.2 C535.43 169.35 532.95 169.48 531 169.6 C529.05 169.72 526.97 169.92 525.8 169.9 C524.63 169.88 524.58 169.73 524 169.5 C523.42 169.27 522.58 168.67 522.3 168.5 L521.4 168.6 C520.5 168.85 518.07 169.3 516 170.1 C513.93 170.9 511.33 172.23 509 173.4 C506.67 174.57 504.33 175.92 502 177.1 C499.67 178.28 497.33 179.25 495 180.5 C492.67 181.75 490 183.35 488 184.6 C486 185.85 484.67 187 483 188 C481.33 189 479.5 190.08 478 190.6 C476.5 191.12 475.17 191.1 474 191.1 C472.83 191.1 471.95 190.95 471 190.6 C470.05 190.25 469.05 189.68 468.3 189 C467.55 188.32 467.1 187.67 466.5 186.5 C465.9 185.33 465.15 183.75 464.7 182 C464.25 180.25 463.95 177 463.8 176 L462.7 157.5 C460.9 158.27 456.28 160.55 451.9 162.1 C447.52 163.65 441.05 166.02 436.4 166.8 C431.75 167.58 427.35 167.07 424 166.8 C420.65 166.53 418.05 165.92 416.3 165.2 C414.55 164.48 414.38 163.7 413.5 162.5 C412.62 161.3 411.62 160.08 411 158 C410.38 155.92 410.1 156.33 409.8 150 C409.5 143.67 409.3 125 409.2 120 L408.3 69.3 C407.4 69.3 404.72 69.3 402.9 69.3 C401.08 69.3 398.32 69.3 397.4 69.3  Z" fill="rgb(215,140,10)" fill-opacity="0.5" stroke="rgb(215,140,10)" stroke-opacity="0.5" stroke-width="0.8" stroke-linejoin="round"/>
<path d="M397.4 69.3 C398.32 69.23 401.08 69.03 402.9 68.9 C404.72 68.77 407.4 68.57 408.3 68.5 L409 110 C409.1 115 409.37 134 409.6 140 C409.83 146 409.8 143.87 410.4 146 C411 148.13 411.95 150.63 413.2 152.8 C414.45 154.97 416.1 157.57 417.9 159 C419.7 160.43 420.92 161.13 424 161.4 C427.08 161.67 431.75 161.38 436.4 160.6 C441.05 159.82 447.52 158.12 451.9 156.7 C456.28 155.28 460.9 152.87 462.7 152.1 L463.8 168 C463.95 169.17 464.33 172.83 464.7 175 C465.07 177.17 465.4 179.33 466 181 C466.6 182.67 467.47 184 468.3 185 C469.13 186 470.05 186.6 471 187 C471.95 187.4 472.83 187.48 474 187.4 C475.17 187.32 476.5 187.15 478 186.5 C479.5 185.85 481.33 184.75 483 183.5 C484.67 182.25 486 180.62 488 179 C490 177.38 492.67 175.28 495 173.8 C497.33 172.32 499.67 171.1 502 170.1 C504.33 169.1 506.67 168.42 509 167.8 C511.33 167.18 513.93 166.83 516 166.4 C518.07 165.97 520.5 165.4 521.4 165.2 L522.3 166.2 C522.58 166.37 523.42 166.97 524 167.2 C524.58 167.43 524.63 167.58 525.8 167.6 C526.97 167.62 529.05 167.42 531 167.3 C532.95 167.18 535.43 167.05 537.5 166.9 C539.57 166.75 541.37 166.55 543.4 166.4 C545.43 166.25 548.65 166.07 549.7 166 L553.2 166.8 C553.67 166.72 554.87 166.52 556 166.3 C557.13 166.08 558.33 165.67 560 165.5 C561.67 165.33 564.13 165.38 566 165.3 C567.87 165.22 570.33 165.05 571.2 165 L572.4 166 C573 166 575 166 576 166 C577 166 578 166 578.4 166 L579.6 166.6 C580 166.65 580.97 166.85 582 166.9 C583.03 166.95 583.8 166.98 585.8 166.9 C587.8 166.82 591.63 166.55 594 166.4 C596.37 166.25 597.7 166.13 600 166 C602.3 165.87 606.5 165.67 607.8 165.6 L610.8 166.2 C612 166.13 615.8 165.92 618 165.8 C620.2 165.68 622.17 165.6 624 165.5 C625.83 165.4 628.17 165.25 629 165.2 L630.2 166 C630.83 165.97 632.37 165.93 634 165.8 C635.63 165.67 637.67 165.38 640 165.2 C642.33 165.02 645.37 164.85 648 164.7 C650.63 164.55 654.5 164.37 655.8 164.3 " fill="none" stroke="rgb(224,142,42)" stroke-width="1.45" stroke-linejoin="round" stroke-linecap="butt"/>
</g>
<g clip-path="url(#clC)">
<path d="M53.8 403.8 L65.35 403.8 L66.45 276.7 L67.72 299.03 L69.09 318.87 L70.57 336.11 L72.17 350.74 L73.88 362.91 L75.8 373.32 L76.79 377.6 L77.89 381.65 L78.99 385.08 L80.2 388.24 L81.35 390.75 L82.62 393.04 L83.94 395.01 L85.37 396.73 L86.85 398.17 L88.45 399.39 L90.24 400.44 L92.3 401.35 L94.36 402.01 L96.42 402.49 L101.92 403.24 L108.8 403.6 L120.08 403.76 L121.17 276.67 L122.88 305.82 L124.8 330.77 L125.85 341.55 L126.95 351.17 L128.1 359.68 L129.31 367.13 L130.63 373.82 L132.01 379.5 L133.5 384.43 L135.09 388.62 L136.8 392.1 L138.72 395.08 L140.81 397.46 L143.18 399.38 L145.24 400.58 L147.99 401.68 L150.74 402.41 L154.18 402.98 L157.61 403.31 L162.43 403.57 L177.69 403.78 L178.79 276.68 L180.11 299.89 L181.48 319.57 L182.97 336.66 L184.62 351.62 L186.38 363.92 L188.36 374.33 L189.4 378.67 L190.5 382.56 L191.66 385.99 L192.92 389.12 L194.08 391.5 L195.34 393.66 L196.66 395.51 L198.09 397.14 L199.8 398.66 L201.61 399.91 L202.99 400.64 L205.05 401.5 L207.11 402.12 L209.86 402.7 L215.36 403.32 L222.93 403.65 L235.57 403.78 L236.68 276.68 L238.1 301.62 L239.64 323.04 L241.3 341.03 L243.11 356.22 L245.09 368.64 L246.19 374.08 L247.34 378.88 L248.56 383.09 L249.82 386.73 L251.19 389.96 L252.68 392.77 L254 394.78 L255.43 396.55 L256.92 398.02 L258.56 399.31 L260.05 400.22 L262.11 401.19 L264.18 401.89 L266.93 402.55 L272.43 403.26 L279.3 403.61 L289.61 403.76 L312.3 403.8 L312.3 403.8 L268.3 403.77 L262.11 403.66 L258.51 403.44 L254.82 402.84 L253.34 402.37 L252.02 401.75 L250.81 400.97 L249.76 400.05 L248.78 398.9 L247.89 397.59 L246.74 395.33 L245.69 392.58 L244.76 389.37 L243.88 385.51 L242.34 376.12 L240.97 363.73 L239.7 347.48 L238.6 328.09 L237.61 304.97 L236.68 276.7 L235.57 403.8 L207.11 403.74 L201.61 403.53 L198.31 403.14 L196.61 402.75 L195.12 402.23 L193.86 401.6 L192.68 400.77 L191.6 399.76 L190.61 398.53 L189.73 397.12 L188.91 395.45 L187.92 392.91 L186.98 389.79 L186.16 386.31 L185.39 382.28 L184.01 372.65 L182.75 360.01 L181.65 344.93 L180.6 325.81 L179.67 303.5 L178.79 276.7 L177.69 403.8 L152.8 403.77 L144.55 403.56 L141.69 403.29 L139.38 402.85 L137.45 402.21 L135.81 401.32 L134.1 399.88 L132.62 397.95 L131.3 395.45 L130.11 392.33 L129.04 388.49 L128.05 383.82 L127.17 378.48 L126.34 372.18 L124.8 355.95 L123.48 335.54 L122.27 309.26 L121.17 276.7 L120.08 403.8 L93.67 403.72 L88.86 403.49 L85.53 403.05 L83.88 402.63 L82.45 402.09 L81.19 401.39 L80.03 400.51 L78.99 399.45 L78.06 398.2 L77.17 396.71 L76.35 394.95 L75.41 392.41 L74.53 389.37 L73.71 385.78 L72.94 381.63 L71.56 371.71 L70.35 359.36 L69.25 344.05 L68.24 325.23 L67.33 303.5 L66.45 276.7 L65.35 403.8 L53.8 403.8 Z" fill="rgb(16,0,255)" fill-opacity="0.25" stroke="rgb(16,0,255)" stroke-opacity="0.25" stroke-width="0.7"/>
<path d="M53.8 403.8 L65.35 403.8 L66.45 276.7 L67.55 300.98 L68.7 321.5 L69.97 339.31 L71.4 354.84 L72.94 367.41 L74.59 377.33 L75.47 381.46 L76.46 385.34 L77.45 388.54 L78.55 391.46 L79.54 393.6 L80.64 395.55 L81.85 397.27 L83.11 398.68 L84.49 399.87 L86.03 400.88 L87.68 401.68 L89.55 402.32 L93.67 403.13 L98.49 403.54 L106.05 403.74 L120.08 403.8 L121.17 276.7 L122.6 307.31 L124.2 332.85 L125.99 353.53 L126.95 362.04 L128 369.66 L129.09 376.18 L130.25 381.69 L131.49 386.38 L132.83 390.37 L134.32 393.71 L135.97 396.46 L137.78 398.63 L139.88 400.34 L141.75 401.39 L143.86 402.2 L146.61 402.86 L150.05 403.31 L154.18 403.58 L158.99 403.71 L177.69 403.8 L178.79 276.7 L179.89 300.98 L181.1 322.37 L182.36 339.98 L183.79 355.36 L185.33 367.8 L187.09 378.15 L188.03 382.38 L189.02 386.1 L190.06 389.33 L191.22 392.22 L192.21 394.23 L193.31 396.06 L194.52 397.67 L195.78 399 L197.16 400.11 L198.7 401.06 L200.4 401.83 L202.3 402.43 L206.43 403.18 L211.93 403.59 L220.18 403.76 L235.57 403.8 L236.68 276.7 L237.88 303.14 L239.2 325.75 L240.63 344.55 L242.18 359.76 L243.88 372.1 L244.81 377.33 L245.81 381.92 L246.85 385.91 L248 389.48 L249.27 392.58 L250.59 395.1 L251.75 396.84 L252.95 398.29 L254.28 399.52 L255.76 400.59 L257.47 401.49 L259.36 402.2 L261.43 402.72 L263.49 403.08 L268.3 403.51 L275.18 403.72 L312.3 403.8 L312.3 403.8 L271.74 403.76 L264.86 403.6 L260.74 403.29 L258.62 402.97 L256.75 402.52 L255.15 401.96 L253.73 401.24 L252.4 400.34 L251.19 399.23 L250.09 397.93 L249.1 396.43 L247.89 394.08 L246.74 391.13 L245.69 387.7 L244.76 383.86 L243.88 379.41 L243.06 374.33 L241.51 361.86 L240.14 346.34 L238.88 327.02 L237.72 303.76 L236.68 276.7 L235.57 403.8 L209.18 403.68 L203.68 403.38 L200.24 402.87 L198.48 402.4 L196.88 401.79 L195.45 401.01 L194.19 400.07 L193.03 398.94 L191.93 397.54 L190.94 395.95 L190.01 394.08 L188.96 391.45 L187.97 388.3 L187.04 384.6 L186.21 380.6 L184.62 370.37 L183.24 358 L181.98 342.6 L180.82 324.06 L179.78 302.49 L178.79 276.7 L177.69 403.8 L155.55 403.75 L147.3 403.48 L143.86 403.1 L141.63 402.63 L139.49 401.89 L137.68 400.9 L135.81 399.35 L134.15 397.3 L132.67 394.67 L131.35 391.45 L130.14 387.5 L129.04 382.83 L128 377.16 L127.06 370.79 L126.18 363.42 L125.35 355.02 L123.81 334.38 L122.44 308.68 L121.17 276.7 L120.08 403.8 L96.42 403.67 L90.92 403.33 L87.35 402.74 L85.64 402.24 L84.1 401.57 L82.73 400.75 L81.47 399.72 L80.31 398.49 L79.27 397.05 L78.28 395.33 L77.39 393.44 L76.35 390.64 L75.41 387.5 L74.53 383.86 L73.71 379.71 L72.22 369.95 L70.85 357.42 L69.61 342.21 L68.48 324.06 L67.44 302.49 L66.45 276.7 L65.35 403.8 L53.8 403.8 Z" fill="rgb(16,0,255)" fill-opacity="0.5" stroke="rgb(16,0,255)" stroke-opacity="0.5" stroke-width="0.7"/>
<path d="M53.8 403.8 L65.35 403.8 L66.45 276.7 L67.5 301.65 L68.59 322.64 L69.81 340.78 L71.12 355.98 L72.56 368.34 L74.15 378.39 L75.03 382.66 L75.97 386.42 L76.95 389.67 L78 392.44 L78.94 394.46 L79.98 396.29 L81.08 397.83 L82.29 399.17 L83.61 400.29 L85.04 401.19 L86.63 401.93 L88.39 402.51 L92.3 403.23 L97.11 403.59 L104.67 403.76 L120.08 403.8 L121.17 276.7 L122.55 308.46 L124.03 333.91 L125.69 354.3 L126.56 362.62 L127.55 370.32 L128.55 376.58 L129.64 382.17 L130.85 387.01 L132.12 390.91 L133.55 394.24 L135.09 396.87 L136.85 399.01 L138.83 400.63 L140.75 401.68 L142.95 402.46 L145.24 402.97 L148.68 403.4 L157.61 403.74 L177.69 403.8 L178.79 276.7 L179.83 301.65 L180.93 322.64 L182.14 340.78 L183.52 356.53 L185 369.14 L186.65 379.26 L187.53 383.38 L188.52 387.2 L189.51 390.3 L190.61 393.08 L191.6 395.08 L192.7 396.87 L193.86 398.36 L195.12 399.62 L196.5 400.67 L197.98 401.5 L199.69 402.19 L201.61 402.72 L205.74 403.35 L211.24 403.66 L235.57 403.8 L236.68 276.7 L237.83 303.97 L239.04 326.28 L240.36 344.98 L241.84 360.68 L243.5 373.26 L244.38 378.39 L245.31 382.91 L246.3 386.81 L247.4 390.3 L248.61 393.32 L249.88 395.76 L250.98 397.41 L252.13 398.78 L253.39 399.95 L254.77 400.91 L256.31 401.71 L257.99 402.32 L260.05 402.84 L262.11 403.18 L266.93 403.57 L273.11 403.74 L312.3 403.8" fill="none" stroke="rgb(16,0,255)" stroke-width="1.5" stroke-linejoin="round"/>
<path d="M53.8 403.8 L65.35 403.8 L66.45 276.7 L68.27 307.47 L70.3 333.2 L71.4 344.12 L72.56 353.77 L73.77 362.21 L75.08 369.81 L76.46 376.25 L77.94 381.84 L79.54 386.59 L81.25 390.53 L83.17 393.91 L85.26 396.61 L87.57 398.75 L90.24 400.44 L92.3 401.35 L95.05 402.19 L97.8 402.74 L100.55 403.1 L108.11 403.58 L120.08 403.76 L121.17 276.67 L122.88 305.82 L124.8 330.77 L125.85 341.55 L126.95 351.17 L128.1 359.68 L129.31 367.13 L130.63 373.82 L132.01 379.5 L133.5 384.43 L135.09 388.62 L136.8 392.1 L138.72 395.08 L140.81 397.46 L143.18 399.38 L145.24 400.58 L147.99 401.68 L150.74 402.41 L154.18 402.98 L157.61 403.31 L162.43 403.57 L177.69 403.78 L178.79 361.33 L180.05 368.79 L181.37 375.18 L182.8 380.8 L184.4 385.77 L186.1 389.9 L187.92 393.27 L189.93 396.05 L192.15 398.28 L193.58 399.37 L195.07 400.27 L196.72 401.05 L198.53 401.72 L200.62 402.29 L202.99 402.75 L207.94 403.3 L209.04 377.96 L210.58 383.38 L212.28 388.06 L214.15 391.97 L216.19 395.13 L218.44 397.66 L220.97 399.63 L223.89 401.13 L227.32 402.22 L228.43 366.24 L229.99 374.24 L231.67 380.92 L233.54 386.6 L235.57 391.2 L236.68 351.2 L238.1 361.52 L239.64 370.38 L241.35 378.04 L243.17 384.28 L245.14 389.37 L246.25 391.6 L247.4 393.58 L248.61 395.3 L249.93 396.85 L251.31 398.17 L252.79 399.31 L255.32 400.75 L258.24 401.85 L261.43 402.6 L265.69 403.17 L266.79 377.85 L268.33 383.29 L270.03 387.99 L271.9 391.92 L273.94 395.09 L276.19 397.63 L278.72 399.61 L281.64 401.11 L285.07 402.21 L286.18 366.23 L288.1 375.8 L289.14 379.93 L290.25 383.62 L291.4 386.89 L292.61 389.74 L293.93 392.31 L295.36 394.56 L296.84 396.44 L298.44 398.03 L300.14 399.35 L302.07 400.48 L304.16 401.39 L306.53 402.12 L308.86 402.63 L312.3 403.11 L312.3 403.77 L304.22 403.52 L301.57 403.22 L299.49 402.79 L297.67 402.15 L296.07 401.27 L294.7 400.13 L293.44 398.65 L292.23 396.66 L291.12 394.2 L290.13 391.27 L289.25 387.93 L288.4 383.83 L287.6 379.05 L286.18 367.44 L285.07 403.61 L280.54 403.17 L278.83 402.81 L277.35 402.32 L276.03 401.68 L274.82 400.87 L273.72 399.86 L272.73 398.66 L271.79 397.19 L270.91 395.42 L269.37 391.11 L268 385.43 L266.79 378.37 L265.69 403.78 L258.24 403.66 L253.73 403.33 L250.43 402.67 L249.1 402.18 L247.89 401.56 L246.74 400.74 L245.69 399.75 L244.76 398.59 L243.88 397.2 L242.34 393.81 L240.97 389.33 L239.7 383.47 L238.6 376.46 L237.61 368.12 L236.68 357.91 L235.57 398.49 L234.37 396.45 L233.32 394.06 L232.33 391.09 L231.45 387.69 L230.6 383.53 L229.83 378.87 L228.43 367.44 L227.32 403.61 L222.79 403.17 L221.08 402.81 L219.6 402.32 L218.28 401.68 L217.07 400.87 L215.97 399.86 L214.98 398.66 L214.04 397.19 L213.16 395.42 L211.62 391.11 L210.25 385.44 L209.04 378.37 L207.94 403.78 L199.41 403.63 L194.57 403.19 L192.68 402.79 L191.05 402.23 L189.62 401.5 L188.36 400.57 L186.6 398.61 L185.11 396.06 L183.79 392.76 L182.58 388.51 L181.54 383.55 L180.55 377.36 L179.61 369.8 L178.79 361.35 L177.69 403.8 L152.8 403.77 L144.55 403.56 L141.69 403.29 L139.38 402.85 L137.45 402.21 L135.81 401.32 L134.1 399.88 L132.62 397.95 L131.3 395.45 L130.11 392.33 L129.04 388.49 L128.05 383.82 L127.17 378.48 L126.34 372.18 L124.8 355.95 L123.48 335.54 L122.27 309.26 L121.17 276.7 L120.08 403.8 L98.49 403.78 L90.92 403.62 L87.95 403.41 L85.64 403.07 L83.66 402.56 L82.02 401.87 L80.09 400.56 L78.5 398.83 L77.12 396.6 L75.85 393.68 L74.7 390 L73.66 385.51 L72.72 380.28 L71.84 374 L71.02 366.59 L70.25 358.02 L68.81 336.54 L67.55 309.26 L66.45 276.7 L65.35 403.8 L53.8 403.8 Z" fill="rgb(215,140,10)" fill-opacity="0.25" stroke="rgb(215,140,10)" stroke-opacity="0.25" stroke-width="0.7"/>
<path d="M53.8 403.8 L65.35 403.8 L66.45 276.7 L67.94 308.33 L69.61 334.71 L70.52 345.79 L71.45 355.36 L72.44 363.77 L73.54 371.42 L74.7 377.88 L75.91 383.27 L77.23 387.88 L78.72 391.84 L80.31 395.01 L82.12 397.6 L84.16 399.61 L86.47 401.12 L88.45 401.97 L90.92 402.66 L93.67 403.13 L96.42 403.41 L104.67 403.72 L120.08 403.8 L121.17 276.7 L122.6 307.31 L124.2 332.85 L125.99 353.53 L126.95 362.04 L128 369.66 L129.09 376.18 L130.25 381.69 L131.49 386.38 L132.83 390.37 L134.32 393.71 L135.97 396.46 L137.78 398.63 L139.88 400.34 L141.75 401.39 L143.86 402.2 L146.61 402.86 L150.05 403.31 L154.18 403.58 L158.99 403.71 L177.69 403.8 L178.79 361.35 L179.83 369.09 L180.99 376.02 L182.25 382.03 L183.57 386.92 L185.06 391.12 L186.65 394.48 L188.47 397.23 L190.5 399.36 L191.88 400.39 L193.42 401.27 L195.12 401.98 L196.99 402.53 L199.14 402.96 L201.61 403.28 L207.94 403.65 L209.04 378.26 L210.47 384.41 L212.06 389.54 L213.82 393.64 L215.75 396.79 L216.79 398.07 L217.95 399.21 L219.16 400.17 L220.48 400.98 L221.96 401.68 L223.56 402.24 L227.32 403.05 L228.43 366.97 L229.94 376.28 L231.62 383.88 L232.5 386.99 L233.49 389.91 L234.48 392.32 L235.57 394.52 L236.68 354.35 L237.88 364.63 L239.2 373.43 L240.63 380.75 L242.18 386.67 L243.88 391.46 L245.81 395.29 L246.85 396.84 L248 398.23 L249.27 399.43 L250.59 400.42 L253.23 401.77 L256.42 402.7 L260.05 403.25 L265.69 403.62 L266.79 378.23 L268.22 384.39 L269.81 389.53 L271.57 393.63 L273.5 396.78 L274.54 398.06 L275.7 399.21 L276.91 400.16 L278.23 400.98 L279.71 401.68 L281.31 402.24 L285.07 403.05 L286.18 366.97 L287.88 377.28 L288.81 381.66 L289.81 385.5 L290.85 388.84 L292 391.83 L293.27 394.42 L294.59 396.52 L295.97 398.22 L297.5 399.65 L299.21 400.81 L301.13 401.74 L303.28 402.44 L305.75 402.95 L308.86 403.34 L312.3 403.56 L312.3 403.71 L308.12 403.56 L304.99 403.31 L302.45 402.92 L300.31 402.37 L298.44 401.6 L296.79 400.59 L295.31 399.29 L293.99 397.7 L292.72 395.65 L291.56 393.18 L290.52 390.3 L289.53 386.87 L288.59 382.82 L287.74 378.3 L286.18 367.28 L285.07 403.41 L280.92 402.8 L279.27 402.34 L277.79 401.75 L276.47 401.03 L275.26 400.14 L274.16 399.09 L273.11 397.82 L272.12 396.3 L271.24 394.62 L269.59 390.41 L268.11 384.98 L266.79 378.33 L265.69 403.74 L259.36 403.54 L255.05 403.09 L251.8 402.32 L250.43 401.77 L249.16 401.08 L247.95 400.21 L246.8 399.13 L245.75 397.86 L244.81 396.45 L243.06 392.8 L241.51 388.14 L240.14 382.34 L238.88 375.13 L237.72 366.44 L236.68 356.34 L235.57 396.7 L234.42 394.55 L233.38 392.05 L232.38 389.06 L231.5 385.76 L229.88 377.64 L228.43 367.28 L227.32 403.41 L223.17 402.8 L221.52 402.34 L220.04 401.75 L218.72 401.03 L217.51 400.14 L216.41 399.09 L215.36 397.82 L214.37 396.3 L213.49 394.62 L211.84 390.41 L210.36 384.98 L209.04 378.34 L207.94 403.75 L200.51 403.51 L195.73 402.92 L193.8 402.44 L192.15 401.81 L190.67 401.01 L189.35 400.02 L187.48 398 L185.83 395.34 L184.34 391.91 L183.05 387.81 L181.87 382.84 L180.77 376.83 L179.72 369.53 L178.79 361.35 L177.69 403.8 L155.55 403.75 L147.3 403.48 L143.86 403.1 L141.63 402.63 L139.49 401.89 L137.68 400.9 L135.81 399.35 L134.15 397.3 L132.67 394.67 L131.35 391.45 L130.14 387.5 L129.04 382.83 L128 377.16 L127.06 370.79 L126.18 363.42 L125.35 355.02 L123.81 334.38 L122.44 308.68 L121.17 276.7 L120.08 403.8 L101.24 403.76 L92.99 403.51 L90.24 403.25 L87.79 402.84 L85.81 402.29 L84.05 401.55 L81.96 400.16 L80.14 398.28 L78.55 395.85 L77.12 392.77 L75.85 389.06 L74.7 384.6 L73.6 379.1 L72.61 372.81 L71.67 365.4 L70.79 356.83 L69.2 336.11 L67.77 309.87 L66.45 276.7 L65.35 403.8 L53.8 403.8 Z" fill="rgb(215,140,10)" fill-opacity="0.5" stroke="rgb(215,140,10)" stroke-opacity="0.5" stroke-width="0.7"/>
<path d="M53.8 403.8 L65.35 403.8 L66.45 276.7 L67.88 309.55 L69.42 335.5 L71.12 355.98 L72.06 364.47 L73.1 372.19 L74.2 378.68 L75.36 384.07 L76.62 388.66 L78 392.44 L79.48 395.47 L81.19 397.97 L83.11 399.9 L85.31 401.34 L87.29 402.17 L89.55 402.78 L92.3 403.23 L95.05 403.48 L103.3 403.74 L120.08 403.8 L121.17 276.7 L122.55 308.46 L124.03 333.91 L125.69 354.3 L126.56 362.62 L127.55 370.32 L128.55 376.58 L129.64 382.17 L130.85 387.01 L132.12 390.91 L133.55 394.24 L135.09 396.87 L136.85 399.01 L138.83 400.63 L140.75 401.68 L142.95 402.46 L145.24 402.97 L148.68 403.4 L157.61 403.74 L177.69 403.8 L178.79 361.35 L179.78 369.29 L180.88 376.38 L182.03 382.26 L183.3 387.27 L184.67 391.4 L186.21 394.81 L187.97 397.58 L189.93 399.66 L191.3 400.7 L192.81 401.54 L194.46 402.2 L196.39 402.73 L200.93 403.39 L207.94 403.7 L209.04 378.3 L210.41 384.67 L211.95 389.94 L213.66 394.1 L214.59 395.82 L215.58 397.31 L216.63 398.59 L217.73 399.66 L218.94 400.58 L220.31 401.39 L221.8 402.03 L223.39 402.53 L227.32 403.24 L228.43 367.13 L229.91 376.92 L231.56 384.76 L232.44 387.96 L233.43 390.92 L234.48 393.45 L235.57 395.58 L236.68 355.32 L237.83 365.72 L239.04 374.24 L240.36 381.37 L241.84 387.35 L243.5 392.15 L245.31 395.83 L246.3 397.32 L247.4 398.65 L248.61 399.8 L249.88 400.73 L251.14 401.44 L252.51 402.03 L255.76 402.9 L260.05 403.43 L265.69 403.69 L266.79 378.29 L268.16 384.66 L269.7 389.93 L271.41 394.09 L272.34 395.82 L273.33 397.31 L274.38 398.58 L275.48 399.65 L276.69 400.58 L278.06 401.39 L279.55 402.03 L281.14 402.53 L285.07 403.24 L286.18 367.13 L287.82 377.83 L288.73 382.32 L289.69 386.24 L290.74 389.68 L291.84 392.58 L293.05 395.09 L294.31 397.12 L295.69 398.79 L297.18 400.12 L298.82 401.2 L300.75 402.06 L302.89 402.69 L305.43 403.15 L308.18 403.43 L312.3 403.64" fill="none" stroke="rgb(224,142,42)" stroke-width="1.5" stroke-linejoin="round"/>
</g>
<g clip-path="url(#clD)">
<path d="M397.4 403.7 L408.64 403.7 L410.01 276.6 L411.05 330.44 L411.66 350.45 L412.37 367.18 L413.14 379.36 L414.02 388.4 L415.06 394.88 L415.67 397.29 L416.33 399.17 L417.37 401.09 L418.63 402.36 L420.23 403.12 L422.43 403.52 L428.25 403.69 L463.47 403.7 L464.84 276.6 L465.44 311.31 L466.1 338.47 L466.87 360.23 L467.75 376.37 L468.74 387.48 L469.29 391.57 L469.95 395.13 L470.66 397.82 L471.49 399.9 L472.42 401.38 L473.57 402.44 L474.62 402.97 L475.88 403.33 L479.67 403.65 L521.01 403.7 L522.39 276.6 L523.43 330.44 L524.04 350.45 L524.75 367.18 L525.52 379.36 L526.45 388.84 L527.5 395.13 L528.1 397.47 L528.82 399.43 L529.86 401.24 L531.12 402.44 L532.77 403.17 L535.02 403.54 L540.96 403.69 L578.7 403.7 L580.08 276.6 L581.17 332.54 L581.83 353.45 L582.6 370.22 L583.43 382.03 L584.42 390.84 L584.97 394.08 L585.57 396.71 L586.26 398.83 L587.05 400.5 L588.15 401.91 L589.53 402.83 L591.28 403.36 L593.87 403.61 L655.62 403.7 L655.62 403.7 L586.78 403.69 L585.4 403.62 L584.53 403.43 L583.92 403.08 L583.43 402.47 L582.99 401.44 L582.66 400.13 L582.05 395.46 L581.56 387.37 L581.17 375.9 L580.57 339.57 L580.08 276.6 L578.7 403.7 L528.65 403.68 L527.39 403.57 L526.56 403.31 L525.96 402.79 L525.52 402.03 L525.14 400.86 L524.81 399.21 L524.26 394.11 L523.82 386.08 L523.43 373.71 L522.83 334.5 L522.39 276.6 L521.01 403.7 L471.1 403.68 L469.84 403.57 L469.01 403.31 L468.41 402.79 L467.97 402.03 L467.59 400.86 L467.26 399.21 L466.71 394.11 L466.27 386.08 L465.88 373.71 L465.28 334.5 L464.84 276.6 L463.47 403.7 L417.32 403.69 L415.28 403.61 L414.24 403.33 L413.58 402.79 L413.09 401.9 L412.65 400.39 L412.32 398.48 L411.71 391.65 L411.27 381.57 L410.89 366.03 L410.56 344.26 L410.01 276.6 L408.64 403.7 L397.4 403.7 Z" fill="rgb(16,0,255)" fill-opacity="0.25" stroke="rgb(16,0,255)" stroke-opacity="0.25" stroke-width="0.7"/>
<path d="M397.4 403.7 L408.64 403.7 L410.01 276.6 L410.89 342.82 L411.44 365.26 L412.04 380.53 L412.76 390.96 L413.63 397.6 L414.13 399.67 L414.73 401.27 L415.45 402.36 L416.38 403.09 L417.98 403.54 L420.78 403.68 L463.47 403.7 L464.84 276.6 L465.55 333.81 L465.99 355.33 L466.49 371.72 L467.04 383.51 L467.7 392.08 L468.46 397.6 L468.9 399.48 L469.45 401.03 L470.17 402.23 L471.05 403 L472.2 403.43 L473.96 403.64 L521.01 403.7 L522.39 276.6 L523.1 333.81 L523.54 355.33 L524.04 371.72 L524.59 383.51 L525.25 392.08 L526.01 397.6 L526.45 399.48 L527 401.03 L527.72 402.23 L528.6 403 L529.75 403.43 L531.51 403.64 L578.7 403.7 L580.08 276.6 L580.84 336.95 L581.28 357.5 L581.78 373.16 L582.33 384.42 L583.04 393.1 L583.92 398.62 L584.42 400.34 L585.02 401.68 L585.79 402.64 L586.72 403.21 L587.99 403.53 L589.91 403.67 L655.62 403.7 L655.62 403.7 L587.71 403.68 L586.17 403.6 L585.18 403.37 L584.47 402.94 L583.92 402.26 L583.43 401.14 L583.04 399.69 L582.38 395.06 L581.83 387.31 L581.39 376.34 L580.95 358.05 L580.62 336.68 L580.08 276.6 L578.7 403.7 L529.48 403.67 L528.1 403.54 L527.2 403.23 L526.51 402.65 L525.96 401.72 L525.52 400.39 L525.19 398.84 L524.59 393.87 L524.09 386.22 L523.65 374.53 L522.94 336.68 L522.39 276.6 L521.01 403.7 L471.93 403.67 L470.55 403.54 L469.62 403.21 L468.96 402.65 L468.41 401.72 L467.97 400.39 L467.59 398.52 L466.98 393.23 L466.49 385.07 L466.07 373.59 L465.39 336.68 L464.84 276.6 L463.47 403.7 L418.3 403.69 L416.05 403.59 L414.84 403.24 L414.13 402.65 L413.58 401.72 L413.09 400.17 L412.7 398.18 L412.04 391.79 L411.49 381.12 L411.05 366.03 L410.67 344.73 L410.01 276.6 L408.64 403.7 L397.4 403.7 Z" fill="rgb(16,0,255)" fill-opacity="0.5" stroke="rgb(16,0,255)" stroke-opacity="0.5" stroke-width="0.7"/>
<path d="M397.4 403.7 L408.64 403.7 L410.01 276.6 L410.78 344.02 L411.22 364.96 L411.77 381.12 L412.37 391.23 L413.14 397.85 L413.58 399.9 L414.13 401.49 L414.79 402.54 L415.61 403.18 L416.99 403.57 L419.51 403.69 L463.47 403.7 L464.84 276.6 L465.5 337.22 L466.27 372.48 L466.76 384.5 L467.31 392.51 L468.03 398.15 L468.41 399.9 L468.9 401.36 L469.56 402.48 L470.33 403.13 L471.38 403.49 L472.92 403.65 L521.01 403.7 L522.39 276.6 L523.05 337.22 L523.82 372.48 L524.31 384.5 L524.86 392.51 L525.58 398.15 L525.96 399.9 L526.45 401.36 L527.11 402.48 L527.88 403.13 L528.93 403.49 L530.46 403.65 L578.7 403.7 L580.08 276.6 L580.73 337.22 L581.12 358.14 L581.56 374.12 L582.11 386.46 L582.71 394.18 L583.48 399.23 L583.92 400.8 L584.47 402.01 L585.13 402.82 L585.95 403.31 L587.05 403.57 L588.81 403.68 L655.62 403.7" fill="none" stroke="rgb(16,0,255)" stroke-width="1.5" stroke-linejoin="round"/>
<path d="M397.4 403.7 L408.64 403.7 L410.01 276.6 L410.61 311.31 L411.33 340.33 L412.1 361.48 L413.03 377.91 L414.07 388.84 L414.68 392.9 L415.34 396.07 L416.11 398.62 L416.99 400.5 L418 401.83 L419.24 402.73 L420.23 403.12 L421.49 403.4 L425.23 403.66 L463.47 403.7 L464.84 276.6 L465.44 311.31 L466.1 338.47 L466.87 360.23 L467.75 376.37 L468.74 387.48 L469.29 391.57 L469.95 395.13 L470.66 397.82 L471.49 399.9 L472.42 401.38 L473.57 402.44 L474.62 402.97 L475.88 403.33 L479.67 403.65 L521.01 403.7 L522.39 361.76 L523.49 380.22 L524.09 386.63 L524.81 391.99 L525.58 395.9 L526.51 398.93 L527.55 400.95 L528.16 401.7 L528.87 402.33 L529.75 402.84 L530.74 403.19 L533.54 403.58 L551.23 403.7 L552.61 379.55 L553.43 388.07 L554.36 394.15 L555.46 398.35 L556.12 399.93 L556.84 401.11 L557.55 401.92 L558.43 402.58 L559.42 403.04 L560.57 403.34 L563.7 403.63 L570.46 403.7 L571.83 368.11 L572.93 383.77 L573.59 389.63 L574.31 394.05 L575.13 397.45 L576.12 399.99 L577.27 401.68 L578.7 402.75 L580.08 361.3 L581.17 379.96 L581.83 386.94 L582.6 392.53 L583.43 396.47 L584.42 399.41 L585.57 401.37 L586.26 402.08 L587.05 402.63 L588.92 403.3 L591.67 403.61 L608.92 403.7 L610.29 379.55 L611.12 388.07 L612.05 394.15 L613.15 398.35 L613.81 399.93 L614.52 401.11 L615.24 401.92 L616.12 402.58 L617.11 403.04 L618.26 403.34 L621.39 403.63 L628.15 403.7 L629.52 368.11 L630.4 381.32 L631.5 391.17 L632.1 394.59 L632.82 397.45 L633.59 399.54 L634.47 401.08 L635.35 402.05 L636.33 402.72 L637.54 403.18 L639.03 403.46 L643.15 403.67 L655.62 403.7 L655.62 403.7 L634.63 403.67 L633.04 403.43 L632.54 403.16 L632.1 402.7 L631.55 401.56 L631.11 399.77 L630.46 393.92 L629.96 384.32 L629.52 368.11 L628.15 403.7 L614.8 403.65 L613.42 403.38 L612.6 402.71 L612.16 401.88 L611.78 400.6 L611.17 396.54 L610.68 389.51 L610.29 379.55 L608.92 403.7 L586.01 403.69 L584.36 403.59 L583.43 403.29 L582.66 402.52 L582.05 400.98 L581.56 398.31 L581.17 394.53 L580.57 382.54 L580.08 361.76 L578.7 403.7 L576.12 403.61 L574.91 403.2 L574.47 402.77 L574.09 402.12 L573.48 400.06 L572.93 395.92 L572.52 389.94 L572.16 381.14 L571.83 368.11 L570.46 403.7 L557.11 403.65 L555.74 403.38 L554.91 402.71 L554.47 401.88 L554.09 400.6 L553.48 396.54 L552.99 389.51 L552.61 379.55 L551.23 403.7 L528.1 403.68 L526.45 403.55 L525.52 403.15 L524.81 402.22 L524.26 400.53 L523.82 397.89 L523.43 393.8 L522.83 380.86 L522.39 361.76 L521.01 403.7 L471.93 403.69 L469.89 403.58 L468.85 403.2 L468.25 402.56 L467.75 401.44 L467.37 399.85 L467.04 397.62 L466.49 390.7 L466.07 380.71 L465.72 366.03 L465.39 344.26 L464.84 276.6 L463.47 403.7 L417.32 403.69 L415.28 403.61 L414.24 403.33 L413.58 402.79 L413.09 401.9 L412.65 400.39 L412.32 398.48 L411.71 391.65 L411.27 381.57 L410.89 366.03 L410.56 344.26 L410.01 276.6 L408.64 403.7 L397.4 403.7 Z" fill="rgb(215,140,10)" fill-opacity="0.25" stroke="rgb(215,140,10)" stroke-opacity="0.25" stroke-width="0.7"/>
<path d="M397.4 403.7 L408.64 403.7 L410.01 276.6 L410.89 342.82 L411.44 365.26 L412.04 380.53 L412.76 390.96 L413.63 397.6 L414.13 399.67 L414.73 401.27 L415.45 402.36 L416.38 403.09 L417.98 403.54 L420.78 403.68 L463.47 403.7 L464.84 276.6 L465.66 339.95 L466.16 361.56 L466.76 378.29 L467.45 389.4 L468.3 396.69 L468.79 399.07 L469.34 400.78 L470.06 402.09 L470.88 402.89 L471.6 403.26 L472.48 403.49 L475.33 403.68 L521.01 403.7 L522.39 361.76 L523.1 380.64 L523.54 387.74 L524.04 393.15 L524.59 397.04 L525.25 399.86 L526.01 401.69 L527 402.82 L528.38 403.42 L530.57 403.66 L551.23 403.7 L552.61 379.55 L553.15 388.46 L553.87 395.32 L554.75 399.68 L555.24 401.05 L555.85 402.1 L556.4 402.69 L557.06 403.12 L558.81 403.57 L561.53 403.69 L570.46 403.7 L571.83 368.11 L572.71 386.65 L573.26 392.94 L573.92 397.5 L574.69 400.45 L575.13 401.45 L575.63 402.21 L576.17 402.76 L576.83 403.16 L578.7 403.59 L580.08 361.72 L580.84 381.65 L581.28 388.44 L581.78 393.61 L582.33 397.33 L583.04 400.2 L583.92 402.02 L584.42 402.59 L585.02 403.03 L586.39 403.49 L588.59 403.67 L608.92 403.7 L610.29 379.55 L610.84 388.46 L611.56 395.32 L612.44 399.68 L612.93 401.05 L613.53 402.1 L614.08 402.69 L614.74 403.12 L616.5 403.57 L619.22 403.69 L628.15 403.7 L629.52 368.11 L630.13 382.24 L630.89 392.43 L631.33 395.9 L631.88 398.78 L632.49 400.73 L633.2 402.07 L633.81 402.72 L634.58 403.18 L635.51 403.46 L636.72 403.61 L655.62 403.7 L655.62 403.7 L635.29 403.66 L633.48 403.35 L632.93 403.03 L632.43 402.5 L631.88 401.43 L631.39 399.66 L630.95 396.96 L630.62 393.81 L630.02 383.69 L629.52 368.11 L628.15 403.7 L615.35 403.63 L613.81 403.3 L613.31 402.99 L612.87 402.51 L612.35 401.51 L611.94 400.16 L611.28 396.07 L610.73 389.23 L610.29 379.55 L608.92 403.7 L586.83 403.68 L585.02 403.57 L583.92 403.22 L583.04 402.38 L582.38 400.85 L581.83 398.29 L581.39 394.67 L580.95 388.64 L580.62 381.58 L580.08 361.75 L578.7 403.69 L576.39 403.52 L575.68 403.3 L575.13 402.94 L574.64 402.34 L574.25 401.57 L573.59 399.11 L573.04 394.99 L572.55 388.21 L571.83 368.11 L570.46 403.7 L557.66 403.63 L556.12 403.3 L555.63 402.99 L555.19 402.51 L554.67 401.51 L554.25 400.16 L553.59 396.07 L553.05 389.23 L552.61 379.55 L551.23 403.7 L528.87 403.68 L527.06 403.52 L525.96 403.05 L525.19 402.1 L524.59 400.46 L524.09 397.93 L523.65 394.08 L522.94 381.58 L522.39 361.76 L521.01 403.7 L472.97 403.69 L470.66 403.56 L469.45 403.11 L468.79 402.43 L468.25 401.3 L467.81 399.69 L467.42 397.42 L466.76 390.17 L466.27 379.63 L465.83 363.54 L465.44 340.84 L464.84 276.6 L463.47 403.7 L418.3 403.69 L416.05 403.59 L414.84 403.24 L414.13 402.65 L413.58 401.72 L413.09 400.17 L412.7 398.18 L412.04 391.79 L411.49 381.12 L411.05 366.03 L410.67 344.73 L410.01 276.6 L408.64 403.7 L397.4 403.7 Z" fill="rgb(215,140,10)" fill-opacity="0.5" stroke="rgb(215,140,10)" stroke-opacity="0.5" stroke-width="0.7"/>
<path d="M397.4 403.7 L408.64 403.7 L410.01 276.6 L410.78 344.02 L411.22 364.96 L411.77 381.12 L412.37 391.23 L413.14 397.85 L413.58 399.9 L414.13 401.49 L414.79 402.54 L415.61 403.18 L416.99 403.57 L419.51 403.69 L463.47 403.7 L464.84 276.6 L465.55 340.71 L465.99 362.81 L466.54 379.87 L467.15 390.54 L467.86 397.18 L468.3 399.47 L468.79 401.1 L469.4 402.26 L470.17 403.02 L471.57 403.53 L474.12 403.69 L521.01 403.7 L522.39 361.76 L523.05 381.76 L523.82 393.4 L524.31 397.36 L524.86 400.01 L525.58 401.87 L526.45 402.93 L527.66 403.46 L529.7 403.67 L551.23 403.7 L552.61 379.55 L553.15 389.63 L553.76 395.93 L554.53 400.05 L554.97 401.33 L555.52 402.32 L556.01 402.85 L556.62 403.23 L558.26 403.61 L570.46 403.7 L571.83 368.11 L572.22 379.31 L572.66 387.87 L573.15 393.96 L573.76 398.32 L574.47 401.04 L574.86 401.87 L575.35 402.58 L575.9 403.05 L576.61 403.38 L578.7 403.66 L580.08 361.75 L580.73 381.75 L581.12 388.66 L581.56 393.94 L582.11 398.01 L582.71 400.56 L583.48 402.23 L583.92 402.74 L584.47 403.14 L585.68 403.53 L587.71 403.68 L608.92 403.7 L610.29 379.55 L610.84 389.63 L611.45 395.93 L612.22 400.05 L612.65 401.33 L613.2 402.32 L613.7 402.85 L614.3 403.23 L615.95 403.61 L628.15 403.7 L629.52 368.11 L630.07 382.96 L630.79 393.42 L631.17 396.66 L631.66 399.37 L632.21 401.18 L632.82 402.31 L633.37 402.89 L634.03 403.28 L634.85 403.51 L636 403.64 L655.62 403.7" fill="none" stroke="rgb(224,142,42)" stroke-width="1.5" stroke-linejoin="round"/>
</g>
<line x1="169.3" y1="54" x2="169.3" y2="206.4" stroke="rgb(255,60,60)" stroke-opacity="0.75" stroke-width="1.2" stroke-dasharray="2 1.05"/>
<line x1="292.8" y1="54" x2="292.8" y2="206.4" stroke="rgb(255,60,60)" stroke-opacity="0.8" stroke-width="1.2" stroke-dasharray="3.6 1.0 0.8 1.0"/>
<line x1="172" y1="60.6" x2="182" y2="60.6" stroke="rgb(255,0,0)" stroke-width="1.6"/>
<path d="M181.6 57.5 L188 60.6 L181.6 63.7 Z" fill="rgb(255,0,0)"/>
<text x="190.6" y="64.1" font-size="11.4" text-anchor="start" fill="rgb(255,0,0)" stroke="rgb(255,0,0)" stroke-width="0.15">Prediction</text>
<g transform="translate(295.1 64.6) skewX(-9)"><text x="0" y="0" font-size="13" font-style="italic" fill="rgb(255,40,40)" stroke="rgb(255,40,40)" stroke-width="0.2">t<tspan font-size="10" dx="-0.5" dy="3.4">f</tspan></text></g>
<line x1="512.7" y1="54" x2="512.7" y2="206.4" stroke="rgb(255,60,60)" stroke-opacity="0.75" stroke-width="1.2" stroke-dasharray="2 1.05"/>
<line x1="636.4" y1="54" x2="636.4" y2="206.4" stroke="rgb(255,60,60)" stroke-opacity="0.8" stroke-width="1.2" stroke-dasharray="3.6 1.0 0.8 1.0"/>
<line x1="515.7" y1="61" x2="525.7" y2="61" stroke="rgb(255,0,0)" stroke-width="1.6"/>
<path d="M525.3 57.9 L531.7 61 L525.3 64.1 Z" fill="rgb(255,0,0)"/>
<text x="534.3" y="64.2" font-size="11.4" text-anchor="start" fill="rgb(255,0,0)" stroke="rgb(255,0,0)" stroke-width="0.15">Prediction</text>
<g transform="translate(638.7 62.8) skewX(-9)"><text x="0" y="0" font-size="13" font-style="italic" fill="rgb(255,40,40)" stroke="rgb(255,40,40)" stroke-width="0.2">t<tspan font-size="10" dx="-0.5" dy="3.4">f</tspan></text></g>
<line x1="169.3" y1="264" x2="169.3" y2="416.2" stroke="rgb(255,60,60)" stroke-opacity="0.75" stroke-width="1.2" stroke-dasharray="2 1.05"/>
<line x1="292.8" y1="264" x2="292.8" y2="416.2" stroke="rgb(255,60,60)" stroke-opacity="0.8" stroke-width="1.2" stroke-dasharray="3.6 1.0 0.8 1.0"/>
<line x1="171.8" y1="411" x2="181.8" y2="411" stroke="rgb(255,0,0)" stroke-width="1.6"/>
<path d="M181.4 407.9 L187.8 411 L181.4 414.1 Z" fill="rgb(255,0,0)"/>
<text x="190.4" y="414.6" font-size="11.4" text-anchor="start" fill="rgb(255,0,0)" stroke="rgb(255,0,0)" stroke-width="0.15">Prediction</text>
<g transform="translate(295.1 272.2) skewX(-9)"><text x="0" y="0" font-size="13" font-style="italic" fill="rgb(255,40,40)" stroke="rgb(255,40,40)" stroke-width="0.2">t<tspan font-size="10" dx="-0.5" dy="3.4">f</tspan></text></g>
<line x1="512.7" y1="264" x2="512.7" y2="416.2" stroke="rgb(255,60,60)" stroke-opacity="0.75" stroke-width="1.2" stroke-dasharray="2 1.05"/>
<line x1="636.4" y1="264" x2="636.4" y2="416.2" stroke="rgb(255,60,60)" stroke-opacity="0.8" stroke-width="1.2" stroke-dasharray="3.6 1.0 0.8 1.0"/>
<line x1="515.3" y1="410.8" x2="525.3" y2="410.8" stroke="rgb(255,0,0)" stroke-width="1.6"/>
<path d="M524.9 407.7 L531.3 410.8 L524.9 413.9 Z" fill="rgb(255,0,0)"/>
<text x="533.9" y="414.3" font-size="11.4" text-anchor="start" fill="rgb(255,0,0)" stroke="rgb(255,0,0)" stroke-width="0.15">Prediction</text>
<g transform="translate(638.7 272) skewX(-9)"><text x="0" y="0" font-size="13" font-style="italic" fill="rgb(255,40,40)" stroke="rgb(255,40,40)" stroke-width="0.2">t<tspan font-size="10" dx="-0.5" dy="3.4">f</tspan></text></g>
<rect x="110.1" y="472.6" width="72.7" height="171.1" fill="rgb(16,0,255)"/>
<rect x="201" y="504.3" width="72.4" height="139.4" fill="rgb(224,142,42)"/>
<rect x="102.1" y="463.9" width="179.5" height="179.8" fill="none" stroke="#858585" stroke-width="1.45"/>
<line x1="98.3" y1="643.7" x2="102.1" y2="643.7" stroke="#262626" stroke-width="1"/>
<text x="95.1" y="647.1" font-size="10" text-anchor="end" fill="#000" stroke="#000" stroke-width="0.15">0.0</text>
<line x1="98.3" y1="600.93" x2="102.1" y2="600.93" stroke="#262626" stroke-width="1"/>
<text x="95.1" y="604.33" font-size="10" text-anchor="end" fill="#000" stroke="#000" stroke-width="0.15">0.5</text>
<line x1="98.3" y1="558.15" x2="102.1" y2="558.15" stroke="#262626" stroke-width="1"/>
<text x="95.1" y="561.55" font-size="10" text-anchor="end" fill="#000" stroke="#000" stroke-width="0.15">1.0</text>
<line x1="98.3" y1="515.38" x2="102.1" y2="515.38" stroke="#262626" stroke-width="1"/>
<text x="95.1" y="518.77" font-size="10" text-anchor="end" fill="#000" stroke="#000" stroke-width="0.15">1.5</text>
<line x1="98.3" y1="472.6" x2="102.1" y2="472.6" stroke="#262626" stroke-width="1"/>
<text x="95.1" y="476" font-size="10" text-anchor="end" fill="#000" stroke="#000" stroke-width="0.15">2.0</text>
<line x1="146.45" y1="643.7" x2="146.45" y2="647.2" stroke="#262626" stroke-width="1"/>
<text x="146.45" y="658.2" font-size="10" text-anchor="middle" fill="#000" stroke="#000" stroke-width="0.15">SOC</text>
<line x1="237.2" y1="643.7" x2="237.2" y2="647.2" stroke="#262626" stroke-width="1"/>
<text x="237.2" y="658.2" font-size="10" text-anchor="middle" fill="#000" stroke="#000" stroke-width="0.15">Opt.</text>
<text x="191" y="670" font-size="11.5" text-anchor="middle" fill="#000" stroke="#000" stroke-width="0.15">Schedule</text>
<text x="77.6" y="557.7" font-size="11.5" text-anchor="middle" fill="#000" stroke="#000" stroke-width="0.15" transform="rotate(-90 77.6 557.7)">Dose over 2 cycles (NU)</text>
<g shape-rendering="crispEdges">
</g>
<path d="M430.1 643.8 L430.1 614.78 L440.99 614.78 L440.99 601.39 L451.87 601.39 L451.87 594.7 L462.76 594.7 L462.76 599.16 L473.65 599.16 L473.65 563.45 L484.54 563.45 L484.54 545.59 L495.42 545.59 L495.42 543.36 L506.31 543.36 L506.31 554.52 L517.2 554.52 L517.2 541.13 L528.08 541.13 L528.08 512.11 L538.97 512.11 L538.97 521.04 L549.86 521.04 L549.86 547.82 L560.74 547.82 L560.74 585.77 L571.63 585.77 L571.63 590.23 L582.52 590.23 L582.52 625.94 L593.4 625.94 L593.4 643.8 Z" fill="rgb(16,0,255)" fill-opacity="0.6"/>
<path d="M440.4 643.8 L440.4 630.41 L448.91 630.41 L448.91 592.46 L457.43 592.46 L457.43 583.54 L465.94 583.54 L465.94 565.68 L474.45 565.68 L474.45 538.9 L482.96 538.9 L482.96 538.9 L491.48 538.9 L491.48 525.5 L499.99 525.5 L499.99 536.66 L508.5 536.66 L508.5 471.94 L517.02 471.94 L517.02 545.59 L525.53 545.59 L525.53 556.75 L534.04 556.75 L534.04 583.54 L542.56 583.54 L542.56 610.32 L551.07 610.32 L551.07 623.71 L559.58 623.71 L559.58 637.1 L568.1 637.1 L568.1 643.8 Z" fill="rgb(210,133,0)" fill-opacity="0.6"/>
<rect x="422.1" y="463.9" width="179.4" height="179.9" fill="none" stroke="#7a7a7a" stroke-width="1.35"/>
<line x1="418.5" y1="643.8" x2="422.3" y2="643.8" stroke="#262626" stroke-width="1"/>
<text x="415.1" y="647.1" font-size="9.8" text-anchor="end" fill="#000" stroke="#000" stroke-width="0.15">0</text>
<line x1="418.5" y1="599.16" x2="422.3" y2="599.16" stroke="#262626" stroke-width="1"/>
<text x="415.1" y="602.46" font-size="9.8" text-anchor="end" fill="#000" stroke="#000" stroke-width="0.15">20</text>
<line x1="418.5" y1="554.52" x2="422.3" y2="554.52" stroke="#262626" stroke-width="1"/>
<text x="415.1" y="557.82" font-size="9.8" text-anchor="end" fill="#000" stroke="#000" stroke-width="0.15">40</text>
<line x1="418.5" y1="509.88" x2="422.3" y2="509.88" stroke="#262626" stroke-width="1"/>
<text x="415.1" y="513.18" font-size="9.8" text-anchor="end" fill="#000" stroke="#000" stroke-width="0.15">60</text>
<line x1="418.5" y1="465.24" x2="422.3" y2="465.24" stroke="#262626" stroke-width="1"/>
<text x="415.1" y="468.54" font-size="9.8" text-anchor="end" fill="#000" stroke="#000" stroke-width="0.15">80</text>
<line x1="441.5" y1="643.8" x2="441.5" y2="647.3" stroke="#262626" stroke-width="1"/>
<text x="441.5" y="658.4" font-size="9.8" text-anchor="middle" fill="#000" stroke="#000" stroke-width="0.15">4</text>
<line x1="500.3" y1="643.8" x2="500.3" y2="647.3" stroke="#262626" stroke-width="1"/>
<text x="500.3" y="658.4" font-size="9.8" text-anchor="middle" fill="#000" stroke="#000" stroke-width="0.15">5</text>
<line x1="559.1" y1="643.8" x2="559.1" y2="647.3" stroke="#262626" stroke-width="1"/>
<text x="559.1" y="658.4" font-size="9.8" text-anchor="middle" fill="#000" stroke="#000" stroke-width="0.15">6</text>
<text x="504.8" y="669.4" font-size="11.6" text-anchor="middle" fill="#000" stroke="#000" stroke-width="0.15">Max cell count</text>
<text x="601.5" y="669.4" font-size="9.6" text-anchor="end" fill="#000" stroke="#000" stroke-width="0.15">1e8</text>
<text x="396" y="554.7" font-size="11.6" text-anchor="middle" fill="#000" stroke="#000" stroke-width="0.15" transform="rotate(-90 396 554.7)">Number of observations</text>
<rect x="553.3" y="468.5" width="44.1" height="25.7" rx="1.8" fill="#fff" fill-opacity="0.85" stroke="#d5d5d5" stroke-width="0.9"/>
<rect x="556.8" y="472.1" width="16.2" height="5.7" fill="rgb(108,102,255)"/>
<text x="579.8" y="478" font-size="7.8" text-anchor="start" fill="#000">SOC</text>
<rect x="556.8" y="483.5" width="16.2" height="5.7" fill="rgb(228,182,98)"/>
<text x="579.8" y="488.9" font-size="7.8" text-anchor="start" fill="#000">Opt.</text>
<path d="M48 873.2 L48 844 L59.26 844 L59.26 811.56 L70.52 811.56 L70.52 798.59 L81.78 798.59 L81.78 801.83 L93.04 801.83 L93.04 746.68 L104.3 746.68 L104.3 743.44 L115.56 743.44 L115.56 736.95 L126.82 736.95 L126.82 746.68 L138.08 746.68 L138.08 720.73 L149.34 720.73 L149.34 727.22 L160.6 727.22 L160.6 736.95 L171.86 736.95 L171.86 805.08 L183.12 805.08 L183.12 821.3 L194.38 821.3 L194.38 844 L205.64 844 L205.64 863.47 L216.9 863.47 L216.9 873.2 Z" fill="rgb(16,0,255)" fill-opacity="0.6"/>
<path d="M70.2 873.2 L70.2 837.52 L78.37 837.52 L78.37 779.12 L86.54 779.12 L86.54 775.88 L94.71 775.88 L94.71 736.95 L102.88 736.95 L102.88 717.49 L111.05 717.49 L111.05 727.22 L119.22 727.22 L119.22 736.95 L127.39 736.95 L127.39 711 L135.56 711 L135.56 707.76 L143.73 707.76 L143.73 779.12 L151.9 779.12 L151.9 824.54 L160.07 824.54 L160.07 827.78 L168.24 827.78 L168.24 853.74 L176.41 853.74 L176.41 863.47 L184.58 863.47 L184.58 869.96 L192.75 869.96 L192.75 873.2 Z" fill="rgb(210,133,0)" fill-opacity="0.6"/>
<rect x="39.6" y="699.7" width="186" height="173.5" fill="none" stroke="#262626" stroke-width="1"/>
<line x1="35.9" y1="873.2" x2="39.6" y2="873.2" stroke="#262626" stroke-width="1"/>
<text x="32.9" y="876.5" font-size="9.8" text-anchor="end" fill="#000" stroke="#000" stroke-width="0.15">0</text>
<line x1="35.9" y1="840.76" x2="39.6" y2="840.76" stroke="#262626" stroke-width="1"/>
<text x="32.9" y="844.06" font-size="9.8" text-anchor="end" fill="#000" stroke="#000" stroke-width="0.15">10</text>
<line x1="35.9" y1="808.32" x2="39.6" y2="808.32" stroke="#262626" stroke-width="1"/>
<text x="32.9" y="811.62" font-size="9.8" text-anchor="end" fill="#000" stroke="#000" stroke-width="0.15">20</text>
<line x1="35.9" y1="775.88" x2="39.6" y2="775.88" stroke="#262626" stroke-width="1"/>
<text x="32.9" y="779.18" font-size="9.8" text-anchor="end" fill="#000" stroke="#000" stroke-width="0.15">30</text>
<line x1="35.9" y1="743.44" x2="39.6" y2="743.44" stroke="#262626" stroke-width="1"/>
<text x="32.9" y="746.74" font-size="9.8" text-anchor="end" fill="#000" stroke="#000" stroke-width="0.15">40</text>
<line x1="35.9" y1="711" x2="39.6" y2="711" stroke="#262626" stroke-width="1"/>
<text x="32.9" y="714.3" font-size="9.8" text-anchor="end" fill="#000" stroke="#000" stroke-width="0.15">50</text>
<line x1="73.6" y1="873.2" x2="73.6" y2="876.6" stroke="#262626" stroke-width="1"/>
<text x="73.6" y="888.1" font-size="9.8" text-anchor="middle" fill="#000" stroke="#000" stroke-width="0.15">3</text>
<line x1="120.6" y1="873.2" x2="120.6" y2="876.6" stroke="#262626" stroke-width="1"/>
<text x="120.6" y="888.1" font-size="9.8" text-anchor="middle" fill="#000" stroke="#000" stroke-width="0.15">4</text>
<line x1="167.6" y1="873.2" x2="167.6" y2="876.6" stroke="#262626" stroke-width="1"/>
<text x="167.6" y="888.1" font-size="9.8" text-anchor="middle" fill="#000" stroke="#000" stroke-width="0.15">5</text>
<line x1="214.6" y1="873.2" x2="214.6" y2="876.6" stroke="#262626" stroke-width="1"/>
<text x="214.6" y="888.1" font-size="9.8" text-anchor="middle" fill="#000" stroke="#000" stroke-width="0.15">6</text>
<text x="124" y="901.5" font-size="11.5" text-anchor="middle" fill="#000" stroke="#000" stroke-width="0.15">Final cell count</text>
<text x="225.6" y="901.2" font-size="9.6" text-anchor="end" fill="#000" stroke="#000" stroke-width="0.15">1e8</text>
<text x="17" y="791.4" font-size="11.6" text-anchor="middle" fill="#000" stroke="#000" stroke-width="0.15" transform="rotate(-90 17 791.4)">Number of observations</text>
<rect x="179.4" y="702.5" width="43.5" height="25.8" rx="1.8" fill="#fff" fill-opacity="0.85" stroke="#d5d5d5" stroke-width="0.9"/>
<rect x="182.5" y="706.1" width="16.4" height="5.6" fill="rgb(108,102,255)"/>
<text x="205.3" y="711.7" font-size="8" text-anchor="start" fill="#000">SOC</text>
<rect x="182.5" y="717.4" width="16.4" height="5.6" fill="rgb(228,182,98)"/>
<text x="205.3" y="722.9" font-size="8" text-anchor="start" fill="#000">Opt.</text>
<rect x="274.3" y="708.1" width="34.8" height="165" fill="rgb(16,0,255)"/>
<rect x="309.1" y="811.88" width="34.7" height="61.21" fill="rgb(224,142,42)"/>
<rect x="373.9" y="708.1" width="34.7" height="165" fill="rgb(16,0,255)"/>
<rect x="408.6" y="818.82" width="34.7" height="54.29" fill="rgb(224,142,42)"/>
<line x1="326.45" y1="810.6" x2="326.45" y2="812.8" stroke="#000" stroke-width="1.5"/>
<rect x="266" y="699.7" width="186.1" height="173.4" fill="none" stroke="#262626" stroke-width="1"/>
<line x1="262.3" y1="873.1" x2="266" y2="873.1" stroke="#262626" stroke-width="1"/>
<text x="259" y="876.4" font-size="9.6" text-anchor="end" fill="#000" stroke="#000" stroke-width="0.15">0.0</text>
<line x1="262.3" y1="840.1" x2="266" y2="840.1" stroke="#262626" stroke-width="1"/>
<text x="259" y="843.4" font-size="9.6" text-anchor="end" fill="#000" stroke="#000" stroke-width="0.15">0.2</text>
<line x1="262.3" y1="807.1" x2="266" y2="807.1" stroke="#262626" stroke-width="1"/>
<text x="259" y="810.4" font-size="9.6" text-anchor="end" fill="#000" stroke="#000" stroke-width="0.15">0.4</text>
<line x1="262.3" y1="774.1" x2="266" y2="774.1" stroke="#262626" stroke-width="1"/>
<text x="259" y="777.4" font-size="9.6" text-anchor="end" fill="#000" stroke="#000" stroke-width="0.15">0.6</text>
<line x1="262.3" y1="741.1" x2="266" y2="741.1" stroke="#262626" stroke-width="1"/>
<text x="259" y="744.4" font-size="9.6" text-anchor="end" fill="#000" stroke="#000" stroke-width="0.15">0.8</text>
<line x1="262.3" y1="708.1" x2="266" y2="708.1" stroke="#262626" stroke-width="1"/>
<text x="259" y="711.4" font-size="9.6" text-anchor="end" fill="#000" stroke="#000" stroke-width="0.15">1.0</text>
<line x1="309.1" y1="873.1" x2="309.1" y2="876.5" stroke="#262626" stroke-width="1"/>
<text x="309.1" y="886.9" font-size="9.3" text-anchor="middle" fill="#000" stroke="#000" stroke-width="0.15">Adriamycin</text>
<line x1="408.6" y1="873.1" x2="408.6" y2="876.5" stroke="#262626" stroke-width="1"/>
<text x="408.6" y="886.9" font-size="9.3" text-anchor="middle" fill="#000" stroke="#000" stroke-width="0.15">Cyclophosphamide</text>
<text x="359" y="902.1" font-size="10.3" text-anchor="middle" fill="#000" stroke="#000" stroke-width="0.15">Drug type</text>
<text x="239.6" y="786.6" font-size="9.8" text-anchor="middle" fill="#000" stroke="#000" stroke-width="0.15" transform="rotate(-90 239.6 786.6)">Max concentration (NU)</text>
<rect x="410.7" y="702.1" width="39.1" height="22.6" rx="1.8" fill="#fff" fill-opacity="0.85" stroke="#d5d5d5" stroke-width="0.9"/>
<rect x="413.3" y="705.1" width="14.8" height="4.9" fill="rgb(16,0,255)"/>
<text x="434" y="709.6" font-size="6.9" text-anchor="start" fill="#000">SOC</text>
<rect x="413.3" y="715.3" width="14.8" height="4.9" fill="rgb(224,142,42)"/>
<text x="434" y="720.4" font-size="6.9" text-anchor="start" fill="#000">Opt.</text>
<rect x="500.7" y="718.83" width="34.5" height="154.07" fill="rgb(16,0,255)"/>
<rect x="535.2" y="756.13" width="34.6" height="116.77" fill="rgb(224,142,42)"/>
<rect x="600.1" y="822.28" width="34.6" height="50.62" fill="rgb(16,0,255)"/>
<rect x="634.7" y="832.94" width="34.6" height="39.96" fill="rgb(224,142,42)"/>
<line x1="517.95" y1="708.2" x2="517.95" y2="728.8" stroke="#000" stroke-width="1.8"/>
<line x1="552.5" y1="748.1" x2="552.5" y2="763.9" stroke="#000" stroke-width="1.8"/>
<line x1="617.4" y1="819" x2="617.4" y2="825.2" stroke="#000" stroke-width="1.8"/>
<line x1="652" y1="830.5" x2="652" y2="835.7" stroke="#000" stroke-width="1.8"/>
<rect x="492.3" y="699.7" width="186" height="173.2" fill="none" stroke="#262626" stroke-width="1"/>
<line x1="488.6" y1="872.9" x2="492.3" y2="872.9" stroke="#262626" stroke-width="1"/>
<text x="485.3" y="876.2" font-size="9.6" text-anchor="end" fill="#000" stroke="#000" stroke-width="0.15">0.0</text>
<line x1="488.6" y1="850.7" x2="492.3" y2="850.7" stroke="#262626" stroke-width="1"/>
<text x="485.3" y="854" font-size="9.6" text-anchor="end" fill="#000" stroke="#000" stroke-width="0.15">0.5</text>
<line x1="488.6" y1="828.5" x2="492.3" y2="828.5" stroke="#262626" stroke-width="1"/>
<text x="485.3" y="831.8" font-size="9.6" text-anchor="end" fill="#000" stroke="#000" stroke-width="0.15">1.0</text>
<line x1="488.6" y1="806.3" x2="492.3" y2="806.3" stroke="#262626" stroke-width="1"/>
<text x="485.3" y="809.6" font-size="9.6" text-anchor="end" fill="#000" stroke="#000" stroke-width="0.15">1.5</text>
<line x1="488.6" y1="784.1" x2="492.3" y2="784.1" stroke="#262626" stroke-width="1"/>
<text x="485.3" y="787.4" font-size="9.6" text-anchor="end" fill="#000" stroke="#000" stroke-width="0.15">2.0</text>
<line x1="488.6" y1="761.9" x2="492.3" y2="761.9" stroke="#262626" stroke-width="1"/>
<text x="485.3" y="765.2" font-size="9.6" text-anchor="end" fill="#000" stroke="#000" stroke-width="0.15">2.5</text>
<line x1="488.6" y1="739.7" x2="492.3" y2="739.7" stroke="#262626" stroke-width="1"/>
<text x="485.3" y="743" font-size="9.6" text-anchor="end" fill="#000" stroke="#000" stroke-width="0.15">3.0</text>
<line x1="488.6" y1="717.5" x2="492.3" y2="717.5" stroke="#262626" stroke-width="1"/>
<text x="485.3" y="720.8" font-size="9.6" text-anchor="end" fill="#000" stroke="#000" stroke-width="0.15">3.5</text>
<line x1="535.2" y1="872.9" x2="535.2" y2="876.3" stroke="#262626" stroke-width="1"/>
<text x="535.2" y="886.9" font-size="9.3" text-anchor="middle" fill="#000" stroke="#000" stroke-width="0.15">Adriamycin</text>
<line x1="634.7" y1="872.9" x2="634.7" y2="876.3" stroke="#262626" stroke-width="1"/>
<text x="634.7" y="886.9" font-size="9.3" text-anchor="middle" fill="#000" stroke="#000" stroke-width="0.15">Cyclophosphamide</text>
<text x="585.3" y="902.1" font-size="10.3" text-anchor="middle" fill="#000" stroke="#000" stroke-width="0.15">Drug type</text>
<text x="464.6" y="785.1" font-size="10.4" text-anchor="middle" fill="#000" stroke="#000" stroke-width="0.15" transform="rotate(-90 464.6 785.1)">Toxicity (TU)</text>
<rect x="635.5" y="703" width="39.1" height="23" rx="1.8" fill="#fff" fill-opacity="0.85" stroke="#d5d5d5" stroke-width="0.9"/>
<rect x="638.2" y="706.1" width="14.9" height="4.9" fill="rgb(16,0,255)"/>
<text x="659" y="710.6" font-size="6.9" text-anchor="start" fill="#000">SOC</text>
<rect x="638.2" y="716.4" width="14.9" height="4.9" fill="rgb(224,142,42)"/>
<text x="659" y="721" font-size="6.9" text-anchor="start" fill="#000">Opt.</text>
</svg></body></html>
